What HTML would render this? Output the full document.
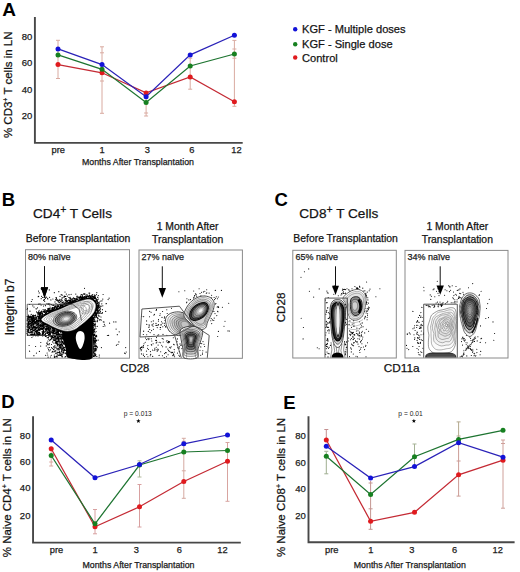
<!DOCTYPE html>
<html><head><meta charset="utf-8"><style>
html,body{margin:0;padding:0;background:#fff;}
svg{display:block;font-family:"Liberation Sans", sans-serif;}
svg text{stroke:#1a1a1a;stroke-width:0.25px;}
</style></head><body>
<svg width="520" height="572" viewBox="0 0 520 572">
<rect width="520" height="572" fill="#fff"/>
<text x="2.3" y="16.2" font-size="19" text-anchor="start" font-weight="bold" fill="#000"  style="stroke:none">A</text>
<path d="M34.9 17 V142.9 H242.7" fill="none" stroke="#484848" stroke-width="1.9"/>
<path d="M58 40.3 V78.5" stroke="#d9aaa0" stroke-width="1"/>
<path d="M56 40.3 H60" stroke="#d9aaa0" stroke-width="1"/>
<path d="M56 78.5 H60" stroke="#d9aaa0" stroke-width="1"/>
<path d="M102 46.8 V113.3" stroke="#d9aaa0" stroke-width="1"/>
<path d="M100 46.8 H104" stroke="#d9aaa0" stroke-width="1"/>
<path d="M100 52.8 H104" stroke="#d9aaa0" stroke-width="1"/>
<path d="M100 81 H104" stroke="#d9aaa0" stroke-width="1"/>
<path d="M100 113.3 H104" stroke="#d9aaa0" stroke-width="1"/>
<path d="M146.1 92 V116" stroke="#d9aaa0" stroke-width="1"/>
<path d="M144.1 113 H148.1" stroke="#d9aaa0" stroke-width="1"/>
<path d="M144.1 116 H148.1" stroke="#d9aaa0" stroke-width="1"/>
<path d="M190.2 58.2 V89.2" stroke="#d9aaa0" stroke-width="1"/>
<path d="M188.2 58.2 H192.2" stroke="#d9aaa0" stroke-width="1"/>
<path d="M188.2 89.2 H192.2" stroke="#d9aaa0" stroke-width="1"/>
<path d="M234.4 40.4 V106.3" stroke="#d9aaa0" stroke-width="1"/>
<path d="M232.4 40.4 H236.4" stroke="#d9aaa0" stroke-width="1"/>
<path d="M232.4 49 H236.4" stroke="#d9aaa0" stroke-width="1"/>
<path d="M232.4 58.2 H236.4" stroke="#d9aaa0" stroke-width="1"/>
<path d="M232.4 106.3 H236.4" stroke="#d9aaa0" stroke-width="1"/>
<polyline points="58,64.6 102,72.8 146.1,92.9 190.2,77 234.4,101.8" fill="none" stroke="#c42a34" stroke-width="1.25"/>
<circle cx="58" cy="64.6" r="2.5" fill="#e01a1e"/>
<circle cx="102" cy="72.8" r="2.5" fill="#e01a1e"/>
<circle cx="146.1" cy="92.9" r="2.5" fill="#e01a1e"/>
<circle cx="190.2" cy="77" r="2.5" fill="#e01a1e"/>
<circle cx="234.4" cy="101.8" r="2.5" fill="#e01a1e"/>
<polyline points="58,54.9 102,69.3 146.1,102.5 190.2,66 234.4,54" fill="none" stroke="#1d7430" stroke-width="1.25"/>
<circle cx="58" cy="54.9" r="2.5" fill="#168020"/>
<circle cx="102" cy="69.3" r="2.5" fill="#168020"/>
<circle cx="146.1" cy="102.5" r="2.5" fill="#168020"/>
<circle cx="190.2" cy="66" r="2.5" fill="#168020"/>
<circle cx="234.4" cy="54" r="2.5" fill="#168020"/>
<polyline points="58,48.9 102,64.6 146.1,96.8 190.2,54.9 234.4,35.3" fill="none" stroke="#2a22b8" stroke-width="1.25"/>
<circle cx="58" cy="48.9" r="2.5" fill="#1212d8"/>
<circle cx="102" cy="64.6" r="2.5" fill="#1212d8"/>
<circle cx="146.1" cy="96.8" r="2.5" fill="#1212d8"/>
<circle cx="190.2" cy="54.9" r="2.5" fill="#1212d8"/>
<circle cx="234.4" cy="35.3" r="2.5" fill="#1212d8"/>
<text x="32.3" y="39.699999999999996" font-size="9.5" text-anchor="end" font-weight="normal" fill="#222" >80</text>
<text x="32.3" y="66.2" font-size="9.5" text-anchor="end" font-weight="normal" fill="#222" >60</text>
<text x="32.3" y="92.7" font-size="9.5" text-anchor="end" font-weight="normal" fill="#222" >40</text>
<text x="32.3" y="119.2" font-size="9.5" text-anchor="end" font-weight="normal" fill="#222" >20</text>
<text x="58.2" y="153.3" font-size="9.3" text-anchor="middle" font-weight="normal" fill="#1a1a1a" >pre</text>
<text x="102.2" y="153.3" font-size="9.3" text-anchor="middle" font-weight="normal" fill="#1a1a1a" >1</text>
<text x="147.4" y="153.3" font-size="9.3" text-anchor="middle" font-weight="normal" fill="#1a1a1a" >3</text>
<text x="191.9" y="153.3" font-size="9.3" text-anchor="middle" font-weight="normal" fill="#1a1a1a" >6</text>
<text x="236.4" y="153.3" font-size="9.3" text-anchor="middle" font-weight="normal" fill="#1a1a1a" >12</text>
<text x="82" y="165.3" font-size="8.8" text-anchor="start" font-weight="normal" fill="#222" >Months After Transplantation</text>
<text transform="translate(11.5,84.8) rotate(-90)" font-size="11.5" text-anchor="middle" fill="#111">% CD3<tspan font-size="7" dy="-4">+</tspan><tspan dy="4"> T cells in LN</tspan></text>
<circle cx="295.2" cy="29.3" r="2.2" fill="#1212d8"/>
<text x="302" y="33.3" font-size="11.1" text-anchor="start" font-weight="normal" fill="#111" >KGF - Multiple doses</text>
<circle cx="295.2" cy="44.3" r="2.2" fill="#168020"/>
<text x="302" y="48.3" font-size="11.1" text-anchor="start" font-weight="normal" fill="#111" >KGF - Single dose</text>
<circle cx="295.2" cy="57.5" r="2.2" fill="#e01a1e"/>
<text x="302" y="61.5" font-size="11.1" text-anchor="start" font-weight="normal" fill="#111" >Control</text>
<text x="1.2" y="407.6" font-size="18.5" text-anchor="start" font-weight="bold" fill="#000"  style="stroke:none">D</text>
<path d="M33.05 416.3 V542.6 H240.8" fill="none" stroke="#484848" stroke-width="1.9"/>
<path d="M51.2 448 V466" stroke="#d9a8a0" stroke-width="1"/>
<path d="M49.2 462 H53.2" stroke="#d9a8a0" stroke-width="1"/>
<path d="M49.2 466 H53.2" stroke="#d9a8a0" stroke-width="1"/>
<path d="M95 509.5 V533.8" stroke="#d8a0a0" stroke-width="1"/>
<path d="M93 509.5 H97" stroke="#d8a0a0" stroke-width="1"/>
<path d="M93 533.8 H97" stroke="#d8a0a0" stroke-width="1"/>
<path d="M139.5 460.8 V477" stroke="#b0b89a" stroke-width="1"/>
<path d="M137.5 460.8 H141.5" stroke="#b0b89a" stroke-width="1"/>
<path d="M137.5 477 H141.5" stroke="#b0b89a" stroke-width="1"/>
<path d="M139.5 484.5 V527" stroke="#d8a0a0" stroke-width="1"/>
<path d="M137.5 484.5 H141.5" stroke="#d8a0a0" stroke-width="1"/>
<path d="M137.5 527 H141.5" stroke="#d8a0a0" stroke-width="1"/>
<path d="M183.8 438.3 V498.3" stroke="#d4a8a0" stroke-width="1"/>
<path d="M181.8 438.3 H185.8" stroke="#d4a8a0" stroke-width="1"/>
<path d="M181.8 441.3 H185.8" stroke="#d4a8a0" stroke-width="1"/>
<path d="M181.8 470.8 H185.8" stroke="#d4a8a0" stroke-width="1"/>
<path d="M181.8 498.3 H185.8" stroke="#d4a8a0" stroke-width="1"/>
<path d="M227.5 442.5 V501.3" stroke="#d8a4a0" stroke-width="1"/>
<path d="M225.5 442.5 H229.5" stroke="#d8a4a0" stroke-width="1"/>
<path d="M225.5 501.3 H229.5" stroke="#d8a4a0" stroke-width="1"/>
<polyline points="51.2,448.8 95,526.8 139.5,506.8 183.8,481.5 227.5,461.3" fill="none" stroke="#c42a34" stroke-width="1.25"/>
<circle cx="51.2" cy="448.8" r="2.5" fill="#e01a1e"/>
<circle cx="95" cy="526.8" r="2.5" fill="#e01a1e"/>
<circle cx="139.5" cy="506.8" r="2.5" fill="#e01a1e"/>
<circle cx="183.8" cy="481.5" r="2.5" fill="#e01a1e"/>
<circle cx="227.5" cy="461.3" r="2.5" fill="#e01a1e"/>
<polyline points="51.2,455.5 95,523.8 139.5,465 183.8,452 227.5,450.5" fill="none" stroke="#1d7430" stroke-width="1.25"/>
<circle cx="51.2" cy="455.5" r="2.5" fill="#168020"/>
<circle cx="95" cy="523.8" r="2.5" fill="#168020"/>
<circle cx="139.5" cy="465" r="2.5" fill="#168020"/>
<circle cx="183.8" cy="452" r="2.5" fill="#168020"/>
<circle cx="227.5" cy="450.5" r="2.5" fill="#168020"/>
<polyline points="51.2,440 95,477.8 139.5,464.5 183.8,443.8 227.5,435" fill="none" stroke="#2a22b8" stroke-width="1.25"/>
<circle cx="51.2" cy="440" r="2.5" fill="#1212d8"/>
<circle cx="95" cy="477.8" r="2.5" fill="#1212d8"/>
<circle cx="139.5" cy="464.5" r="2.5" fill="#1212d8"/>
<circle cx="183.8" cy="443.8" r="2.5" fill="#1212d8"/>
<circle cx="227.5" cy="435" r="2.5" fill="#1212d8"/>
<text x="30.449999999999996" y="439.15" font-size="9.5" text-anchor="end" font-weight="normal" fill="#222" >80</text>
<text x="30.449999999999996" y="465.15" font-size="9.5" text-anchor="end" font-weight="normal" fill="#222" >60</text>
<text x="30.449999999999996" y="491.4" font-size="9.5" text-anchor="end" font-weight="normal" fill="#222" >40</text>
<text x="30.449999999999996" y="518.9" font-size="9.5" text-anchor="end" font-weight="normal" fill="#222" >20</text>
<text x="56.5" y="552.8" font-size="9.3" text-anchor="middle" font-weight="normal" fill="#1a1a1a" >pre</text>
<text x="95.2" y="552.8" font-size="9.3" text-anchor="middle" font-weight="normal" fill="#1a1a1a" >1</text>
<text x="136.3" y="552.8" font-size="9.3" text-anchor="middle" font-weight="normal" fill="#1a1a1a" >3</text>
<text x="179.3" y="552.8" font-size="9.3" text-anchor="middle" font-weight="normal" fill="#1a1a1a" >6</text>
<text x="222.5" y="552.8" font-size="9.3" text-anchor="middle" font-weight="normal" fill="#1a1a1a" >12</text>
<text x="82.5" y="567.8" font-size="8.8" text-anchor="start" font-weight="normal" fill="#222" >Months After Transplantation</text>
<text transform="translate(10.7,487.7) rotate(-90)" font-size="11.5" text-anchor="middle" fill="#111">% Naive CD4<tspan font-size="7" dy="-4">+</tspan><tspan dy="4"> T cells in LN</tspan></text>
<text x="137.8" y="415.8" font-size="6.7" text-anchor="middle" font-weight="normal" fill="#222"  style="stroke:none">p = 0.013</text>
<polygon points="138.40,418.80 138.96,420.33 140.59,420.39 139.30,421.39 139.75,422.96 138.40,422.05 137.05,422.96 137.50,421.39 136.21,420.39 137.84,420.33" fill="#000"/>
<text x="283.3" y="408.8" font-size="18.5" text-anchor="start" font-weight="bold" fill="#000"  style="stroke:none">E</text>
<path d="M308.5 416.2 V542.3 H514.6" fill="none" stroke="#484848" stroke-width="1.9"/>
<path d="M326.3 429.5 V442" stroke="#c49090" stroke-width="1"/>
<path d="M324.3 429.5 H328.3" stroke="#c49090" stroke-width="1"/>
<path d="M326.3 452 V473.8" stroke="#9fae90" stroke-width="1"/>
<path d="M324.3 451.3 H328.3" stroke="#9fae90" stroke-width="1"/>
<path d="M324.3 473.8 H328.3" stroke="#9fae90" stroke-width="1"/>
<path d="M370.6 481 V529.3" stroke="#c49590" stroke-width="1"/>
<path d="M368.6 483 H372.6" stroke="#c49590" stroke-width="1"/>
<path d="M368.6 508.8 H372.6" stroke="#c49590" stroke-width="1"/>
<path d="M368.6 529.3 H372.6" stroke="#c49590" stroke-width="1"/>
<path d="M414.5 444 V466" stroke="#a5b295" stroke-width="1"/>
<path d="M412.5 444 H416.5" stroke="#a5b295" stroke-width="1"/>
<path d="M458.6 421.9 V440" stroke="#b4a98e" stroke-width="1"/>
<path d="M456.6 421.9 H460.6" stroke="#b4a98e" stroke-width="1"/>
<path d="M456.6 436 H460.6" stroke="#b4a98e" stroke-width="1"/>
<path d="M458.6 444 V496.1" stroke="#cc9c96" stroke-width="1"/>
<path d="M456.6 461 H460.6" stroke="#cc9c96" stroke-width="1"/>
<path d="M456.6 496.1 H460.6" stroke="#cc9c96" stroke-width="1"/>
<path d="M503 440 V508.2" stroke="#cfa09a" stroke-width="1"/>
<path d="M501 440 H505" stroke="#cfa09a" stroke-width="1"/>
<path d="M501 443.5 H505" stroke="#cfa09a" stroke-width="1"/>
<path d="M501 508.2 H505" stroke="#cfa09a" stroke-width="1"/>
<polyline points="326.3,440 370.6,521.3 414.5,512.3 458.6,474.8 503,460.2" fill="none" stroke="#c42a34" stroke-width="1.25"/>
<circle cx="326.3" cy="440" r="2.5" fill="#e01a1e"/>
<circle cx="370.6" cy="521.3" r="2.5" fill="#e01a1e"/>
<circle cx="414.5" cy="512.3" r="2.5" fill="#e01a1e"/>
<circle cx="458.6" cy="474.8" r="2.5" fill="#e01a1e"/>
<circle cx="503" cy="460.2" r="2.5" fill="#e01a1e"/>
<polyline points="326.3,456.3 370.6,494.5 414.5,456.7 458.6,439.4 503,430.3" fill="none" stroke="#1d7430" stroke-width="1.25"/>
<circle cx="326.3" cy="456.3" r="2.5" fill="#168020"/>
<circle cx="370.6" cy="494.5" r="2.5" fill="#168020"/>
<circle cx="414.5" cy="456.7" r="2.5" fill="#168020"/>
<circle cx="458.6" cy="439.4" r="2.5" fill="#168020"/>
<circle cx="503" cy="430.3" r="2.5" fill="#168020"/>
<polyline points="326.3,446.3 370.6,478 414.5,466.6 458.6,442.7 503,457.2" fill="none" stroke="#2a22b8" stroke-width="1.25"/>
<circle cx="326.3" cy="446.3" r="2.5" fill="#1212d8"/>
<circle cx="370.6" cy="478" r="2.5" fill="#1212d8"/>
<circle cx="414.5" cy="466.6" r="2.5" fill="#1212d8"/>
<circle cx="458.6" cy="442.7" r="2.5" fill="#1212d8"/>
<circle cx="503" cy="457.2" r="2.5" fill="#1212d8"/>
<text x="305.9" y="438.9" font-size="9.5" text-anchor="end" font-weight="normal" fill="#222" >80</text>
<text x="305.9" y="466.0" font-size="9.5" text-anchor="end" font-weight="normal" fill="#222" >60</text>
<text x="305.9" y="492.2" font-size="9.5" text-anchor="end" font-weight="normal" fill="#222" >40</text>
<text x="305.9" y="519.3" font-size="9.5" text-anchor="end" font-weight="normal" fill="#222" >20</text>
<text x="331.8" y="552.8" font-size="9.3" text-anchor="middle" font-weight="normal" fill="#1a1a1a" >pre</text>
<text x="370.8" y="552.8" font-size="9.3" text-anchor="middle" font-weight="normal" fill="#1a1a1a" >1</text>
<text x="411.8" y="552.8" font-size="9.3" text-anchor="middle" font-weight="normal" fill="#1a1a1a" >3</text>
<text x="454.6" y="552.8" font-size="9.3" text-anchor="middle" font-weight="normal" fill="#1a1a1a" >6</text>
<text x="497.7" y="552.8" font-size="9.3" text-anchor="middle" font-weight="normal" fill="#1a1a1a" >12</text>
<text x="353.8" y="567.8" font-size="8.8" text-anchor="start" font-weight="normal" fill="#222" >Months After Transplantation</text>
<text transform="translate(285.4,487.5) rotate(-90)" font-size="11.5" text-anchor="middle" fill="#111">% Naive CD8<tspan font-size="7" dy="-4">+</tspan><tspan dy="4"> T cells in LN</tspan></text>
<text x="410.5" y="415.8" font-size="6.7" text-anchor="middle" font-weight="normal" fill="#222"  style="stroke:none">p = 0.01</text>
<polygon points="413.90,418.70 414.46,420.23 416.09,420.29 414.80,421.29 415.25,422.86 413.90,421.95 412.55,422.86 413.00,421.29 411.71,420.29 413.34,420.23" fill="#000"/>
<text x="1.8" y="205.8" font-size="18.5" text-anchor="start" font-weight="bold" fill="#000"  style="stroke:none">B</text>
<text x="33" y="218" font-size="13.6" text-anchor="start" font-weight="normal" fill="#111" >CD4<tspan font-size="10.5" dy="-5">+</tspan><tspan dy="5"> T Cells</tspan></text>
<text x="25.8" y="241.9" font-size="10.4" text-anchor="start" font-weight="normal" fill="#111" >Before Transplantation</text>
<text x="187.6" y="230.4" font-size="10.4" text-anchor="middle" font-weight="normal" fill="#111" >1 Month After</text>
<text x="187.6" y="243" font-size="10.4" text-anchor="middle" font-weight="normal" fill="#111" >Transplantation</text>
<text x="274.6" y="205.6" font-size="18.5" text-anchor="start" font-weight="bold" fill="#000"  style="stroke:none">C</text>
<text x="299.3" y="218" font-size="13.6" text-anchor="start" font-weight="normal" fill="#111" >CD8<tspan font-size="10.5" dy="-5">+</tspan><tspan dy="5"> T Cells</tspan></text>
<text x="293.3" y="241.9" font-size="10.4" text-anchor="start" font-weight="normal" fill="#111" >Before Transplantation</text>
<text x="457.3" y="230.4" font-size="10.4" text-anchor="middle" font-weight="normal" fill="#111" >1 Month After</text>
<text x="457.3" y="243" font-size="10.4" text-anchor="middle" font-weight="normal" fill="#111" >Transplantation</text>
<text transform="translate(13.8,307) rotate(-90)" font-size="12" text-anchor="middle" fill="#111">Integrin b7</text>
<text x="134.8" y="372.2" font-size="11.3" text-anchor="middle" font-weight="normal" fill="#111" >CD28</text>
<text transform="translate(284.9,307.4) rotate(-90)" font-size="11.7" text-anchor="middle" fill="#111">CD28</text>
<text x="401.7" y="372.2" font-size="11.8" text-anchor="middle" font-weight="normal" fill="#111" >CD11a</text>
<rect x="25.5" y="249.7" width="104.0" height="108.5" fill="none" stroke="#8a8a8a" stroke-width="1"/>
<rect x="139" y="250" width="103.4" height="108.30000000000001" fill="none" stroke="#8a8a8a" stroke-width="1"/>
<rect x="292.8" y="250.3" width="103.5" height="107.69999999999999" fill="none" stroke="#8a8a8a" stroke-width="1"/>
<rect x="405" y="250.4" width="103" height="107.6" fill="none" stroke="#8a8a8a" stroke-width="1"/>
<text x="28" y="259.5" font-size="9" text-anchor="start" font-weight="normal" fill="#222" >80% naïve</text>
<text x="141.5" y="259.5" font-size="9" text-anchor="start" font-weight="normal" fill="#222" >27% naïve</text>
<text x="295.5" y="259.5" font-size="9" text-anchor="start" font-weight="normal" fill="#222" >65% naïve</text>
<text x="407.5" y="259.5" font-size="9" text-anchor="start" font-weight="normal" fill="#222" >34% naïve</text>
<path d="M44.5 266.3 V288.3" stroke="#111" stroke-width="1"/>
<path d="M40.9 287.3 L48.1 287.3 L44.5 298 Z" fill="#000"/>
<path d="M70.0 327.0C71.4 326.2 76.4 323.9 78.0 323.0C79.6 322.1 84.5 319.1 86.0 318.0C87.5 316.9 91.8 308.0 92.5 312.0C93.2 316.0 95.0 353.1 92.5 357.7C90.0 362.3 70.7 358.5 68.0 357.7C65.3 356.9 66.4 351.6 66.0 350.0C65.6 348.4 64.4 343.4 64.0 342.0C63.6 340.6 62.0 337.1 62.0 336.0C62.0 334.9 63.2 331.9 64.0 331.0C64.8 330.1 68.6 327.8 70.0 327.0Z" fill="#000"/>
<path d="M37.0 330.7h0M39.7 334.8h0M38.8 334.4h0M27.5 325.0h0M42.1 328.8h0M41.4 317.8h0M34.5 320.6h0M35.7 327.3h0M27.2 319.9h0M31.5 334.3h0M39.3 318.8h0M39.8 318.3h0M36.9 318.1h0M27.0 333.4h0M30.4 319.9h0M42.7 333.4h0M31.6 335.2h0M35.6 329.4h0M30.3 334.8h0M38.1 335.3h0M41.3 321.6h0M32.8 318.9h0M29.3 316.8h0M31.8 327.9h0M27.1 329.4h0M32.4 321.9h0M40.1 325.4h0M32.1 325.4h0M38.3 316.7h0M42.6 316.0h0M39.0 332.8h0M27.3 331.6h0M32.9 327.4h0M27.1 316.5h0M29.9 335.1h0M30.1 331.0h0M41.9 334.8h0M32.5 322.8h0M35.4 331.4h0M28.7 330.8h0M39.8 333.1h0M27.6 334.9h0M28.5 322.5h0M36.8 334.3h0M32.4 334.4h0M35.7 321.9h0M32.1 319.1h0M28.3 318.6h0M38.0 335.9h0M29.6 316.5h0M42.8 326.4h0M33.5 320.4h0M36.5 332.4h0M34.3 324.1h0M27.9 334.3h0M27.5 325.6h0M40.4 318.2h0M38.7 335.0h0M37.1 331.7h0M28.7 324.4h0M29.4 332.8h0M31.7 324.8h0M43.0 333.0h0M42.6 324.8h0M34.8 330.5h0M34.7 321.5h0M33.5 318.5h0M33.0 335.8h0M42.4 328.4h0M35.0 322.4h0M28.4 321.1h0M39.5 333.3h0M32.8 331.6h0M39.4 329.7h0M37.6 331.1h0M32.8 329.9h0M31.5 325.5h0M39.3 329.7h0M31.7 334.9h0M37.4 327.4h0M27.2 326.7h0M31.0 329.3h0M34.4 332.2h0M37.4 331.9h0M32.6 328.7h0M38.8 332.5h0M32.6 332.8h0M40.9 329.6h0M42.6 335.1h0M35.3 326.4h0M29.7 332.7h0M42.0 325.3h0M38.1 330.3h0M38.7 319.0h0M39.5 327.4h0M37.6 324.1h0M37.0 331.4h0M37.2 330.3h0M27.4 318.8h0M34.1 328.8h0M30.5 329.6h0M37.1 316.4h0M34.5 320.1h0M27.9 318.2h0M32.1 319.2h0M30.1 316.2h0M34.4 323.3h0M36.8 327.6h0M30.8 334.0h0M27.0 323.8h0M31.5 323.9h0M28.8 332.5h0M33.0 316.2h0M36.8 317.4h0M35.7 322.5h0M36.3 335.1h0M40.1 324.1h0M40.0 328.7h0M32.9 318.4h0M36.5 327.1h0M42.3 335.3h0M36.7 322.7h0M41.3 315.5h0M28.7 327.1h0M36.8 318.4h0M37.1 333.8h0M33.0 324.3h0M30.6 321.5h0M42.6 323.3h0M42.4 334.2h0M36.5 320.8h0M42.7 325.7h0M33.6 322.0h0M42.7 325.6h0M31.6 325.3h0M29.0 328.2h0M34.1 321.5h0M39.5 332.4h0M27.2 326.4h0M31.4 334.7h0M39.5 320.5h0M31.3 318.7h0M42.8 321.5h0M36.7 325.2h0M37.3 327.9h0M38.9 317.9h0M39.2 321.7h0M35.5 322.4h0M31.7 326.4h0M34.4 322.9h0M38.9 327.6h0M27.6 320.7h0M34.3 334.3h0M41.2 326.7h0M27.2 331.5h0M33.8 327.3h0M38.3 328.5h0M34.7 334.2h0M33.2 323.5h0M40.6 319.5h0M31.7 332.5h0M28.1 332.6h0M38.1 324.4h0M31.6 331.5h0M41.6 318.4h0M34.7 326.8h0M35.0 322.3h0M29.5 327.5h0M40.0 316.9h0M30.7 332.3h0M39.7 329.1h0M27.4 330.3h0M42.7 336.0h0M38.2 316.5h0M40.5 320.0h0M37.3 335.0h0M38.4 318.3h0M31.7 334.3h0M29.4 328.0h0M33.6 318.8h0M37.0 316.4h0M28.7 323.3h0M28.2 316.7h0M36.2 330.7h0M41.1 318.3h0M33.9 321.9h0M36.6 325.5h0M42.0 323.2h0M27.9 329.8h0M29.4 328.4h0M35.1 334.2h0M35.9 328.2h0M31.2 326.8h0M31.1 330.9h0M35.3 318.2h0M30.8 323.1h0M38.8 319.2h0M38.4 328.9h0M28.4 329.2h0M28.5 318.1h0M36.5 320.4h0M41.0 325.3h0M32.2 331.8h0M27.5 330.4h0M27.9 318.6h0M42.2 329.5h0M30.6 317.9h0M42.6 329.1h0M40.1 318.4h0M37.0 322.8h0M30.8 322.3h0M36.8 322.6h0M33.2 318.3h0M40.3 328.8h0M39.9 324.4h0M40.6 326.1h0M36.5 327.3h0M38.8 323.6h0M28.6 316.2h0M30.2 316.3h0M41.2 325.4h0M39.2 315.5h0M34.5 333.7h0M36.9 324.3h0M34.4 317.5h0M29.5 318.8h0M33.0 323.4h0M41.1 318.6h0M31.1 321.2h0M29.6 321.4h0M30.8 325.4h0M27.5 334.5h0M32.9 334.7h0M38.0 329.3h0M34.5 334.9h0M28.9 329.2h0M31.7 329.3h0M38.7 318.8h0M30.2 316.0h0M30.7 317.1h0M33.4 335.5h0M32.8 321.9h0M34.5 321.3h0M38.7 330.2h0M29.6 320.4h0M37.8 334.8h0M37.3 324.3h0M42.6 315.6h0M28.0 331.5h0M33.6 316.4h0M35.8 335.8h0M35.3 322.7h0M28.5 317.0h0M41.4 325.6h0M42.0 316.6h0M30.9 316.5h0M33.4 316.7h0M31.1 323.9h0M31.9 316.6h0M27.6 335.4h0M29.9 325.9h0M33.4 326.4h0M28.3 321.9h0M28.7 326.6h0M41.7 327.8h0M40.7 319.9h0M27.3 326.6h0M34.8 327.2h0M33.0 328.3h0M38.6 334.2h0M31.9 324.7h0M40.2 320.1h0M28.9 321.9h0M28.4 331.3h0M40.1 321.9h0M29.1 317.2h0M30.9 317.2h0M33.9 327.3h0M30.9 316.8h0M38.2 316.5h0M30.2 321.4h0M33.0 317.5h0M33.7 321.9h0M39.0 326.9h0M41.3 328.9h0M39.2 327.3h0M34.1 332.2h0M37.5 335.1h0M38.6 329.9h0M31.3 332.1h0M33.1 318.2h0M28.1 319.0h0M31.2 329.4h0M31.6 316.8h0M39.2 326.9h0M27.4 316.5h0M29.1 322.8h0M40.8 335.0h0M36.8 320.2h0M33.9 322.9h0M32.3 315.8h0M36.4 332.5h0M38.6 317.5h0M35.5 319.0h0M38.4 324.6h0M42.0 331.8h0M28.9 322.0h0M41.6 325.0h0M33.9 324.5h0M39.3 334.7h0M35.5 335.4h0M36.5 317.6h0M40.0 324.1h0M27.8 335.5h0M27.5 327.3h0M34.7 333.6h0M33.3 319.9h0M31.4 319.6h0M36.0 322.8h0M39.0 320.5h0M32.6 320.6h0M42.7 332.7h0M40.6 328.2h0M33.4 318.4h0M40.3 325.5h0M27.6 319.0h0M28.6 330.2h0M41.4 319.6h0M39.8 322.1h0M37.9 333.2h0M37.0 331.9h0M33.0 315.7h0M35.2 327.5h0M30.0 323.5h0M32.1 316.1h0M32.0 323.3h0M34.6 329.9h0M33.4 335.6h0M40.0 334.4h0M38.1 329.2h0M35.6 331.9h0M32.8 327.7h0M37.9 326.2h0M31.5 317.1h0M28.4 322.8h0M36.3 331.1h0M38.4 321.8h0M41.9 321.1h0M38.5 317.0h0M39.1 329.2h0M42.3 333.9h0M38.0 332.7h0M38.8 328.0h0M30.3 326.1h0M41.3 320.4h0M42.6 326.7h0M33.3 315.6h0M33.2 319.2h0M37.4 333.9h0M41.6 328.1h0M33.2 317.7h0M38.0 326.8h0M38.4 323.2h0M41.2 319.9h0M31.9 321.0h0M37.0 333.9h0M29.7 328.5h0M39.3 320.1h0M28.0 327.1h0M40.3 333.5h0M38.6 324.0h0M33.8 326.3h0M41.5 321.7h0M31.5 327.9h0M42.5 319.3h0M27.5 317.9h0M36.0 327.9h0M29.9 319.4h0M36.5 328.8h0M38.0 330.4h0M28.0 325.4h0M40.4 335.1h0M32.1 332.9h0M37.3 334.5h0M30.7 329.8h0M40.5 325.3h0M28.6 319.5h0M29.5 317.4h0M29.4 328.1h0M28.7 331.0h0M38.8 332.2h0M39.9 330.1h0M41.8 335.1h0M37.0 335.3h0M28.7 317.6h0M28.0 319.7h0M33.0 324.9h0M37.9 330.7h0M28.3 323.8h0M35.7 323.2h0M28.9 327.7h0M33.0 329.5h0M34.9 335.2h0M42.1 317.0h0M39.2 330.3h0M31.7 317.9h0M34.7 322.8h0M38.8 334.3h0M33.1 321.5h0M35.0 329.8h0M39.6 327.3h0M31.7 322.4h0M40.6 326.1h0M27.8 324.1h0M30.8 329.2h0M28.2 321.1h0M28.5 325.3h0M42.8 326.6h0M33.2 334.6h0M28.5 322.8h0M35.3 321.5h0M35.7 317.3h0M40.3 322.4h0M28.4 323.3h0M32.7 321.8h0M38.7 335.3h0M27.6 324.0h0M39.9 324.1h0M32.7 321.9h0M43.2 317.9h0M33.8 321.0h0M42.1 312.1h0M42.3 329.0h0M39.9 321.9h0M30.1 323.9h0M29.4 322.8h0M33.2 319.8h0M38.8 326.8h0M41.1 324.2h0M35.4 322.9h0M31.9 320.4h0M36.3 333.2h0M36.6 321.5h0M38.0 326.9h0M33.8 330.3h0M39.9 326.9h0M37.9 323.3h0M30.8 318.2h0M29.6 326.2h0M35.5 328.5h0M34.3 328.3h0M34.6 319.3h0M27.8 324.9h0M42.7 324.0h0M41.7 323.2h0M34.2 322.9h0M32.7 327.2h0M29.1 326.5h0M33.6 324.9h0M37.6 321.2h0M28.2 321.1h0M40.3 320.1h0M39.2 325.5h0M37.0 327.3h0M37.8 322.8h0M32.9 324.3h0M40.4 321.2h0M33.0 330.6h0M34.7 318.1h0M39.7 315.8h0M27.5 326.5h0M35.1 325.9h0M40.4 318.2h0M38.5 320.1h0M36.5 323.2h0M34.4 315.6h0M37.1 322.1h0M38.7 316.8h0M36.4 321.0h0M32.0 320.7h0M33.3 315.2h0M31.2 319.7h0M38.2 321.2h0M44.8 325.0h0M37.2 323.0h0M43.7 317.0h0M44.1 325.0h0M37.0 319.9h0M35.2 318.1h0M34.9 322.3h0M35.4 316.0h0M41.4 318.8h0M37.7 324.9h0M33.6 334.1h0M35.8 324.1h0M33.3 323.6h0M32.5 319.5h0M40.2 326.5h0M32.1 317.0h0M38.4 325.1h0M42.2 318.3h0M31.2 317.6h0M37.8 312.7h0M34.1 324.3h0M34.6 326.7h0M39.2 319.5h0M28.1 316.8h0M38.4 321.3h0M35.8 317.5h0M42.9 326.3h0M40.2 316.5h0M27.6 326.7h0M34.1 318.2h0M29.8 324.4h0M37.1 323.0h0M33.5 317.0h0M36.7 320.7h0M33.6 325.0h0M41.6 318.4h0M40.8 325.2h0M35.2 323.2h0M29.7 320.4h0M41.5 325.8h0M31.8 322.5h0M35.4 319.5h0M32.2 321.5h0M43.7 321.5h0M29.8 323.5h0M30.7 323.5h0M27.7 326.8h0M40.4 319.8h0M38.2 316.3h0M36.5 323.3h0M42.3 319.9h0M27.6 319.4h0M32.5 330.1h0M34.7 327.6h0M35.5 315.2h0M38.1 324.5h0M31.2 314.4h0M37.8 324.3h0M41.4 324.9h0M40.6 328.6h0M42.3 326.0h0M34.9 326.7h0M43.6 327.9h0M30.2 327.7h0M29.8 317.6h0M33.7 326.4h0M37.7 320.1h0M28.7 324.5h0M38.6 321.6h0M28.4 315.0h0M35.0 321.8h0M40.7 320.5h0M41.2 316.1h0M32.1 317.9h0M34.1 316.1h0M32.7 315.3h0M36.2 319.2h0M34.7 322.0h0M38.1 313.7h0M36.1 320.7h0M27.2 320.7h0M38.4 324.3h0M36.0 331.4h0M31.0 318.0h0M31.9 319.2h0M34.9 322.7h0M29.9 316.5h0M56.3 335.2h0M52.7 333.7h0M43.5 325.2h0M53.0 328.8h0M61.1 335.3h0M57.0 336.7h0M56.7 334.3h0M62.4 332.3h0M43.6 326.8h0M44.4 327.4h0M44.1 324.4h0M42.1 328.6h0M49.2 334.6h0M64.9 337.9h0M51.7 329.0h0M52.9 335.4h0M58.6 337.2h0M58.4 335.3h0M62.9 338.3h0M57.8 333.2h0M63.2 334.3h0M58.4 335.4h0M46.6 330.7h0M44.3 332.1h0M45.6 328.5h0M43.4 332.0h0M64.0 332.2h0M52.2 328.8h0M49.1 336.3h0M43.7 330.7h0M47.3 333.3h0M57.4 338.3h0M54.3 329.4h0M48.7 329.0h0M43.7 333.5h0M47.8 325.8h0M44.2 326.1h0M44.3 326.9h0M49.9 333.7h0M52.9 337.4h0M43.4 324.6h0M48.9 325.3h0M50.3 330.1h0M62.3 331.4h0M52.8 333.1h0M52.5 337.6h0M49.3 327.3h0M56.5 331.8h0M46.2 328.9h0M44.6 335.1h0M44.0 332.5h0M48.8 333.1h0M42.8 329.1h0M45.9 326.6h0M58.6 330.2h0M62.5 336.8h0M56.9 337.0h0M46.3 329.5h0M49.7 332.5h0M50.9 335.7h0M51.4 337.1h0M59.9 334.5h0M46.2 328.2h0M48.1 332.4h0M52.5 332.3h0M54.0 331.6h0M54.1 338.0h0M50.1 332.2h0M43.1 330.0h0M48.6 330.5h0M43.1 324.5h0M65.7 335.8h0M47.3 329.1h0M42.8 322.4h0M43.6 322.2h0M65.9 334.8h0M64.1 336.7h0M46.1 325.4h0M43.6 323.5h0M42.3 326.1h0M62.4 337.0h0M59.5 334.6h0M51.2 331.5h0M48.2 329.2h0M47.9 327.4h0M62.1 334.9h0M57.2 337.1h0M42.1 326.0h0M47.5 324.1h0M57.9 331.7h0M48.8 334.6h0M44.9 331.8h0M58.9 334.6h0M53.7 337.4h0M57.1 333.8h0M43.9 323.7h0M53.2 330.9h0M44.3 334.8h0M50.3 329.5h0M54.5 336.8h0M49.3 331.2h0M56.5 333.1h0M49.5 325.6h0M53.3 332.0h0M52.7 331.2h0M42.7 325.4h0M45.9 328.0h0M50.4 333.9h0M47.5 325.6h0M48.2 329.6h0M58.0 334.4h0M53.5 330.7h0M60.5 339.1h0M54.1 333.2h0M49.9 333.7h0M50.8 332.3h0M56.7 333.4h0M64.2 334.2h0M59.0 334.1h0M47.5 332.3h0M53.8 330.5h0M59.3 335.3h0M52.6 331.3h0M59.1 339.1h0M44.0 335.5h0M57.6 330.8h0M60.9 337.2h0M45.5 329.7h0M56.8 334.0h0M65.0 336.1h0M64.7 335.1h0M50.0 335.4h0M54.8 333.3h0M57.3 337.3h0M59.1 339.4h0M53.8 329.9h0M57.8 331.2h0M49.6 330.0h0M43.0 323.8h0M49.2 336.2h0M47.8 333.3h0M55.6 337.9h0M48.2 327.3h0M42.0 322.4h0M45.6 326.3h0M60.4 338.8h0M49.0 332.6h0M45.5 335.7h0M44.5 328.8h0M60.4 330.9h0M42.1 325.2h0M65.7 334.3h0M59.7 336.2h0M42.2 326.1h0M52.2 330.4h0M49.4 335.6h0M47.9 328.5h0M44.5 324.8h0M65.9 332.4h0M54.6 333.5h0M58.1 330.4h0M42.7 322.4h0M47.6 326.3h0M43.6 321.7h0M63.4 331.6h0M49.0 334.3h0M64.5 333.3h0M43.2 328.5h0M62.1 331.9h0M47.0 324.7h0M43.5 330.4h0M46.4 328.9h0M63.5 338.0h0M53.8 335.7h0M64.2 336.7h0M64.4 334.5h0M43.8 325.6h0M57.7 338.2h0M50.3 326.9h0M46.1 324.5h0M48.4 328.2h0M64.7 331.9h0M60.0 338.7h0M44.3 323.9h0M59.7 335.1h0M56.8 329.5h0M46.7 324.4h0M50.4 328.2h0M48.7 335.6h0M63.2 338.6h0M43.1 329.2h0M47.3 332.8h0M49.3 332.1h0M54.1 329.8h0M61.0 338.6h0M56.9 331.8h0M61.0 334.2h0M46.6 328.3h0M42.5 333.4h0M50.6 328.7h0M58.2 338.2h0M55.9 332.9h0M56.6 334.2h0M48.9 332.4h0M48.4 326.6h0M65.5 333.2h0M53.3 331.2h0M43.8 322.2h0M56.0 332.0h0M65.5 332.4h0M53.9 328.4h0M60.2 331.5h0M54.6 335.0h0M55.1 331.8h0M45.1 334.6h0M61.6 335.0h0M45.2 335.2h0M47.2 333.4h0M42.1 331.8h0M61.0 331.8h0M47.5 331.0h0M56.6 338.2h0M56.5 330.0h0M57.6 332.6h0M42.9 323.4h0M50.6 333.7h0M57.7 329.8h0M50.4 335.0h0M54.9 337.2h0M57.9 332.8h0M54.0 335.1h0M63.2 333.6h0M48.4 334.6h0M63.7 331.9h0M47.3 332.2h0M65.0 331.8h0M45.6 324.0h0M42.0 327.5h0M48.2 329.9h0M43.8 331.2h0M56.0 330.5h0M60.9 331.5h0M57.3 331.3h0M63.5 332.2h0M62.5 334.0h0M60.4 334.2h0M46.2 323.9h0M53.4 333.7h0M48.6 331.9h0M46.9 324.4h0M50.7 336.7h0M65.4 333.9h0M46.4 328.6h0M46.0 325.0h0M58.3 330.5h0M49.0 325.1h0M62.5 338.9h0M63.2 334.1h0M48.4 328.3h0M50.9 331.7h0M42.1 329.4h0M58.5 333.7h0M55.2 332.0h0M49.4 333.3h0M43.7 326.8h0M61.8 331.2h0M45.4 334.9h0M46.6 323.3h0M62.0 333.0h0M63.1 334.5h0M52.1 327.6h0M52.5 336.0h0M47.1 331.6h0M48.0 327.5h0M53.0 328.4h0M64.2 332.2h0M48.7 326.9h0M57.8 337.3h0M63.6 331.9h0M51.2 331.2h0M55.0 329.9h0M46.7 328.9h0M62.1 332.8h0M57.1 331.1h0M49.2 329.4h0M51.8 332.5h0M54.9 331.2h0M45.5 333.6h0M48.2 329.8h0M42.9 322.9h0M46.7 335.5h0M63.5 333.3h0M45.2 328.8h0M64.2 333.0h0M43.5 334.0h0M65.7 335.6h0M57.2 338.5h0M59.0 338.7h0M60.3 335.6h0M58.1 336.4h0M53.2 331.0h0M62.6 332.6h0M46.4 336.1h0M49.8 330.9h0M58.4 332.3h0M50.8 333.4h0M51.0 335.6h0M51.3 336.5h0M63.2 337.0h0M47.9 326.1h0M47.1 327.9h0M44.9 322.9h0M58.6 335.0h0M58.9 335.1h0M42.9 325.6h0M49.4 328.8h0M50.2 334.5h0M52.9 332.9h0M64.8 334.7h0M44.3 324.1h0M60.0 335.0h0M59.9 336.3h0M49.3 327.7h0M45.0 324.5h0M62.6 331.8h0M60.5 332.2h0M60.0 330.6h0M47.3 326.5h0M42.8 332.8h0M65.8 332.5h0M53.8 329.1h0M57.1 332.3h0M53.7 338.1h0M63.3 335.6h0M59.4 334.4h0M46.7 329.8h0M61.6 336.7h0M46.3 332.9h0M57.8 335.6h0M60.8 331.3h0M48.4 328.1h0M43.7 321.5h0M65.0 333.7h0M55.5 333.8h0M62.9 332.7h0M52.2 327.8h0M45.6 336.4h0M59.9 331.2h0M43.7 328.7h0M52.3 330.1h0M43.3 330.9h0M42.2 326.0h0M59.1 336.9h0M46.3 328.1h0M44.8 324.9h0M58.0 338.8h0M53.5 332.3h0M65.4 333.8h0M54.2 336.2h0M47.1 327.8h0M53.0 334.0h0M53.6 329.8h0M42.4 322.5h0M53.0 335.3h0M61.5 336.9h0M61.3 339.3h0M45.3 335.9h0M46.6 326.3h0M47.0 324.7h0M56.3 334.1h0M42.9 331.6h0M54.7 331.1h0M54.4 336.0h0M61.7 337.2h0M59.9 336.7h0M59.6 333.9h0M50.0 334.5h0M59.8 336.8h0M54.5 331.7h0M61.2 338.4h0M42.8 320.7h0M47.8 335.5h0M56.0 338.4h0M46.7 327.6h0M56.8 335.5h0M51.3 331.4h0M65.2 333.0h0M62.3 336.7h0M52.3 330.1h0M62.0 334.5h0M48.4 325.0h0M58.5 332.9h0M64.5 331.8h0M53.6 337.7h0M45.3 331.8h0M42.7 334.6h0M51.9 336.4h0M49.4 325.3h0M48.1 326.8h0M52.9 330.6h0M48.9 330.8h0M44.3 327.4h0M58.9 331.3h0M48.7 327.9h0M43.5 328.1h0M51.2 335.5h0M57.4 334.8h0M43.3 326.9h0M48.9 331.7h0M64.0 333.2h0M43.7 326.8h0M46.0 326.0h0M47.4 324.2h0M42.7 329.2h0M60.9 338.1h0M45.4 334.3h0M43.7 335.5h0M48.8 334.8h0M53.8 328.6h0M45.7 330.9h0M53.9 343.1h0M57.1 352.0h0M61.6 351.9h0M60.4 355.5h0M61.2 349.6h0M63.1 347.1h0M57.2 343.9h0M66.1 353.7h0M59.0 348.9h0M53.8 351.8h0M56.5 343.5h0M58.6 345.0h0M66.5 339.3h0M55.6 336.4h0M58.7 352.5h0M64.9 357.0h0M57.5 344.7h0M65.5 344.2h0M61.8 356.3h0M56.1 339.0h0M62.5 341.4h0M59.1 352.7h0M61.8 353.9h0M57.4 345.6h0M61.7 347.5h0M52.1 338.9h0M53.4 340.6h0M58.1 350.0h0M62.5 342.4h0M56.3 339.6h0M64.9 347.5h0M52.5 351.3h0M68.5 348.1h0M55.0 347.6h0M61.3 341.2h0M62.7 354.2h0M62.0 342.0h0M55.4 342.9h0M57.1 355.7h0M58.6 355.2h0M58.1 346.8h0M62.2 344.2h0M60.8 345.9h0M59.5 346.1h0M65.3 356.8h0M59.8 354.5h0M60.1 346.0h0M62.0 345.1h0M64.2 343.1h0M60.0 346.9h0M57.8 340.9h0M61.8 350.8h0M59.1 339.7h0M57.6 343.5h0M58.9 344.4h0M68.1 338.6h0M56.0 341.9h0M54.7 351.0h0M54.5 340.5h0M56.2 347.1h0M59.6 341.3h0M58.4 348.7h0M62.2 356.5h0M57.5 354.1h0M68.7 349.1h0M53.5 346.9h0M64.3 350.0h0M61.3 340.4h0M63.3 348.3h0M63.3 347.1h0M62.8 342.5h0M66.9 351.2h0M61.8 339.1h0M61.3 341.7h0M61.2 337.9h0M51.2 355.3h0M67.2 344.5h0M51.5 344.5h0M63.3 340.0h0M63.7 351.1h0M62.4 349.1h0M55.7 342.0h0M55.4 336.3h0M63.3 343.4h0M63.4 343.5h0M56.1 353.2h0M64.7 343.9h0M57.8 352.6h0M60.8 344.5h0M65.8 353.6h0M56.2 342.5h0M61.2 338.7h0M62.4 349.3h0M60.4 336.4h0M59.4 345.0h0M61.6 344.9h0M58.8 355.4h0M65.6 341.5h0M55.1 351.7h0M57.4 338.1h0M61.1 337.6h0M57.0 343.9h0M60.3 342.2h0M64.7 349.8h0M67.8 348.5h0M61.6 351.3h0M59.7 351.9h0M58.0 342.3h0M49.7 340.6h0M61.7 348.4h0M60.6 347.7h0M61.1 344.6h0M62.6 338.2h0M62.2 357.0h0M64.3 350.7h0M57.1 336.8h0M60.2 348.4h0M57.7 341.3h0M54.8 338.9h0M66.3 347.0h0M64.0 344.2h0M56.8 342.6h0M62.1 342.1h0M63.8 349.2h0M55.1 347.7h0M56.1 343.7h0M60.0 343.3h0M66.7 339.6h0M59.8 351.6h0M66.9 347.6h0M65.3 343.7h0M64.5 344.1h0M65.2 336.5h0M64.0 342.0h0M58.9 344.9h0M61.6 344.2h0M55.3 341.0h0M61.7 350.0h0M59.8 345.8h0M56.8 348.5h0M67.7 341.1h0M59.8 353.2h0M62.3 349.2h0M57.4 341.6h0M63.6 341.9h0M59.6 342.8h0M63.6 343.8h0M61.2 346.5h0M67.5 347.2h0M57.6 339.2h0M63.0 350.6h0M57.3 345.0h0M65.3 339.2h0M62.8 352.2h0M52.3 336.8h0M68.3 343.5h0M63.9 347.1h0M63.8 353.2h0M66.5 350.6h0M55.7 339.3h0M67.6 340.9h0M59.4 336.6h0M55.4 342.9h0M62.6 345.7h0M58.4 339.2h0M52.6 348.5h0M55.1 351.3h0M60.5 353.2h0M54.8 346.6h0M62.2 347.0h0M60.2 355.5h0M60.8 339.2h0M56.6 341.0h0M56.9 343.9h0M54.4 357.5h0M61.5 343.0h0M65.9 353.2h0M54.6 348.0h0M55.7 340.1h0M61.9 343.1h0M63.1 342.3h0M46.6 343.1h0M55.8 353.4h0M57.2 356.9h0M49.0 344.8h0M57.1 349.1h0M59.6 347.4h0M47.1 353.0h0M61.7 338.5h0M62.1 337.1h0M59.4 349.8h0M51.2 338.8h0M50.4 349.8h0M56.2 353.7h0M48.6 349.7h0M51.4 337.9h0M48.9 339.3h0M48.3 337.8h0M65.5 344.4h0M60.9 345.7h0M55.7 342.2h0M64.8 341.3h0M65.2 353.0h0M63.1 339.0h0M65.7 350.4h0M57.2 348.6h0M54.4 356.5h0M65.6 356.5h0M48.0 347.9h0M59.7 340.8h0M63.7 352.4h0M47.5 343.1h0M59.3 355.1h0M66.0 342.7h0M62.6 349.0h0M52.6 341.9h0M47.2 337.7h0M54.0 339.5h0M49.3 343.6h0M47.9 341.1h0M50.4 357.0h0M53.9 349.7h0M56.4 356.7h0M62.3 356.0h0M63.3 352.1h0M63.4 343.8h0M57.8 343.8h0M64.4 342.5h0M66.0 341.8h0M52.1 352.2h0M57.0 341.4h0M47.7 355.0h0M49.4 347.5h0M62.6 347.0h0M55.0 340.4h0M64.7 349.3h0M59.0 345.1h0M59.9 344.8h0M48.8 344.3h0M61.0 354.7h0M55.8 350.5h0M64.6 350.3h0M65.5 342.2h0M63.3 352.4h0M57.0 349.1h0M48.5 337.3h0M45.7 355.3h0M53.4 349.3h0M54.3 355.0h0M60.5 344.7h0M58.4 341.4h0M64.8 340.3h0M64.1 348.0h0M48.1 357.2h0M49.2 350.9h0M50.5 339.7h0M61.6 355.3h0M63.7 350.8h0M58.5 340.2h0M66.0 343.7h0M58.4 337.5h0M51.6 347.7h0M54.9 345.5h0M53.0 337.4h0M58.6 344.3h0M47.4 344.6h0M59.1 352.2h0M53.7 339.4h0M58.1 349.3h0M55.2 356.9h0M64.6 303.9h0M47.6 311.6h0M52.3 310.1h0M46.3 313.3h0M98.4 310.3h0M79.0 297.6h0M59.4 308.6h0M68.4 300.5h0M39.8 315.7h0M91.9 297.4h0M39.5 313.3h0M65.4 304.7h0M61.2 310.0h0M94.6 297.3h0M78.2 301.4h0M54.6 307.9h0M48.4 311.8h0M66.7 304.1h0M82.8 297.5h0M62.9 305.9h0M72.5 303.5h0M99.4 302.0h0M57.3 308.2h0M80.7 296.8h0M77.3 299.4h0M58.0 309.5h0M96.6 300.5h0M52.8 312.5h0M37.4 312.9h0M85.1 298.3h0M55.9 306.6h0M87.1 296.8h0M60.2 309.6h0M43.0 319.4h0M47.6 311.0h0M79.1 300.0h0M74.8 301.9h0M89.5 298.8h0M51.4 310.4h0M75.7 300.5h0M85.0 296.9h0M98.5 305.6h0M98.1 308.8h0M50.7 310.4h0M90.4 298.8h0M90.8 297.7h0M39.8 316.0h0M70.4 302.8h0M96.8 304.5h0M38.2 314.2h0M77.8 299.5h0M95.4 310.4h0M58.4 305.1h0M95.2 310.4h0M41.6 312.2h0M46.6 310.7h0M45.1 312.0h0M90.1 297.8h0M96.6 313.9h0M96.5 316.2h0M98.2 311.5h0M76.2 300.3h0M45.0 311.1h0M72.1 298.9h0M81.6 299.7h0M89.1 295.4h0M97.6 307.0h0M97.7 313.2h0M90.4 310.1h0M51.4 313.7h0M99.2 306.6h0M62.4 303.0h0M59.1 307.3h0M46.6 312.9h0M50.7 311.2h0M99.1 305.0h0M96.2 315.2h0M97.1 308.0h0M44.9 309.5h0M47.0 311.6h0M57.5 307.1h0M97.9 305.6h0M94.7 296.0h0M47.8 310.5h0M98.8 304.1h0M97.4 301.5h0M72.4 303.4h0M40.9 315.4h0M79.5 298.8h0M69.3 304.0h0M89.9 295.6h0M54.3 307.6h0M94.4 301.2h0M91.5 298.1h0M84.5 297.8h0M85.5 297.1h0M97.6 297.3h0M89.7 293.1h0M69.6 303.3h0M46.0 312.0h0M67.4 305.4h0M77.3 299.6h0M51.2 308.6h0M89.9 295.4h0M95.9 300.7h0M44.3 310.6h0M80.0 297.7h0M64.8 303.3h0M76.2 299.5h0M59.2 307.5h0M68.5 303.3h0M101.8 303.8h0M95.6 307.9h0M83.6 297.0h0M39.9 314.5h0M62.1 302.3h0M83.9 300.3h0M70.2 304.2h0M71.7 301.8h0M93.1 311.5h0M67.6 301.6h0M90.3 296.3h0M83.7 297.4h0M74.8 299.8h0M93.6 313.0h0M65.7 304.3h0M45.9 311.0h0M55.1 312.7h0M72.9 301.3h0M39.4 314.7h0M82.3 297.2h0M97.5 303.4h0M95.2 298.3h0M97.5 310.4h0M54.9 310.8h0M97.2 309.1h0M77.1 296.1h0M69.0 299.8h0M63.0 310.6h0M46.8 310.8h0M97.2 305.1h0M54.7 307.5h0M42.4 314.4h0M97.8 303.3h0M96.2 300.9h0M97.1 301.3h0M45.0 315.4h0M49.0 313.2h0M91.7 299.4h0M68.8 302.3h0M100.4 308.9h0M89.0 293.1h0M71.9 304.6h0M93.3 299.4h0M47.9 311.0h0M69.6 300.8h0M50.1 312.2h0M90.7 297.6h0M89.8 298.5h0M94.7 295.8h0M56.4 308.4h0M45.4 309.8h0M39.4 316.3h0M97.9 306.0h0M97.9 312.5h0M43.7 314.5h0M44.1 314.7h0M56.3 306.1h0M52.9 312.0h0M58.4 308.5h0M42.2 314.8h0M49.8 309.3h0M79.2 297.2h0M72.1 302.6h0M77.7 298.9h0M94.3 312.1h0M52.8 307.8h0M71.3 302.3h0M62.0 302.7h0M47.8 308.6h0M70.7 301.7h0M89.5 296.6h0M63.8 301.9h0M56.7 307.8h0M41.6 311.1h0M69.7 298.0h0M98.8 311.8h0M87.0 296.7h0M95.4 297.9h0M92.0 295.1h0M57.1 309.5h0M74.3 298.7h0M84.6 296.5h0M96.1 309.2h0M53.0 307.9h0M74.9 301.8h0M44.5 312.6h0M49.1 313.9h0M73.4 301.1h0M95.1 314.2h0M69.9 301.3h0M49.7 310.8h0M76.9 303.0h0M66.5 301.8h0M75.7 300.3h0M49.3 314.1h0M60.8 307.2h0M94.9 306.0h0M69.5 300.3h0M46.5 315.6h0M95.3 297.8h0M58.0 310.8h0M96.6 306.2h0M52.5 308.4h0M84.9 299.0h0M61.0 307.1h0M87.7 298.7h0M58.1 308.9h0M80.3 298.0h0M61.4 304.8h0M91.8 295.8h0M38.8 312.2h0M65.7 301.8h0M75.4 302.7h0M62.4 306.4h0M63.4 306.5h0M38.6 313.2h0M66.7 300.7h0M72.1 304.1h0M98.6 313.8h0M93.0 298.7h0M63.4 306.4h0M96.3 300.6h0M48.1 308.3h0M55.1 310.1h0M81.7 297.7h0M69.2 302.2h0M97.2 301.0h0M97.6 309.2h0M89.4 295.2h0M53.5 309.5h0M80.8 295.0h0M94.2 297.6h0M99.8 309.4h0M93.1 300.6h0M43.5 312.0h0M52.8 310.1h0M97.7 305.8h0M90.3 298.8h0M89.9 299.1h0M53.3 307.8h0M84.3 299.2h0M81.1 298.8h0M98.4 304.8h0M94.9 313.0h0M55.4 306.9h0M74.0 298.3h0M45.0 314.4h0M59.7 307.4h0M60.9 306.6h0M77.9 299.5h0M99.0 307.3h0M74.8 301.5h0M61.6 305.4h0M49.9 311.2h0M98.2 312.8h0M74.4 300.3h0M97.5 311.1h0M44.1 315.2h0M45.0 317.7h0M95.4 312.6h0M68.7 302.5h0M95.4 301.8h0M97.6 309.0h0M69.0 302.4h0M86.5 296.3h0M53.3 309.0h0M39.5 313.9h0M70.9 301.7h0M39.3 317.5h0M69.7 302.3h0M83.5 298.7h0M93.7 296.5h0M59.1 307.1h0M82.8 297.3h0M46.7 310.8h0M90.3 296.2h0M79.6 301.3h0M43.9 311.1h0M94.1 303.3h0M86.8 302.0h0M96.0 299.7h0M100.8 306.0h0M59.0 306.9h0M93.5 310.8h0M96.3 313.1h0M88.6 296.4h0M92.2 296.7h0M45.3 315.3h0M99.1 306.4h0M93.1 297.6h0M74.5 302.4h0M98.7 306.4h0M91.8 296.2h0M96.1 298.7h0M87.3 295.7h0M80.3 299.3h0M49.0 311.9h0M76.2 301.8h0M82.0 299.5h0M47.6 310.7h0M39.3 312.5h0M94.2 294.8h0M96.4 309.5h0M83.6 297.5h0M93.3 297.0h0M90.1 296.5h0M54.5 306.9h0M66.3 304.9h0M88.6 298.8h0M83.8 297.5h0M82.3 296.2h0M97.1 299.8h0M58.7 306.3h0M60.4 305.3h0M66.5 306.0h0M53.9 311.2h0M97.8 309.4h0M69.7 302.6h0M96.7 309.2h0M40.7 316.9h0M68.3 303.8h0M40.4 313.7h0M50.7 312.3h0M65.4 304.1h0M95.6 307.6h0M81.4 297.9h0M37.8 312.9h0M45.5 313.4h0M67.7 301.1h0M97.4 305.5h0M96.0 302.0h0M90.1 297.6h0M96.8 305.4h0M82.9 294.6h0M77.4 301.4h0M97.7 306.9h0M66.6 305.9h0M37.8 314.9h0M61.2 304.2h0M60.3 304.2h0M94.7 313.2h0M91.3 298.5h0M39.7 314.7h0M49.4 311.3h0M94.5 298.2h0M94.8 315.2h0M52.2 307.7h0M97.1 303.6h0M73.0 300.8h0M95.0 309.5h0M40.9 314.6h0M71.1 299.0h0M66.0 304.7h0M68.5 304.5h0M55.5 305.9h0M78.6 300.7h0M39.2 316.0h0M84.3 294.3h0M75.8 302.2h0M50.2 310.6h0M78.3 297.2h0M92.8 296.0h0M42.1 315.4h0M61.3 307.7h0M73.5 301.4h0M53.4 309.0h0M96.1 312.0h0M99.2 305.7h0M89.8 301.4h0M75.1 299.1h0M94.8 302.9h0M97.8 297.4h0M54.3 309.9h0M96.2 300.5h0M50.0 310.5h0M88.2 296.3h0M39.2 314.6h0M93.3 309.5h0M42.5 313.7h0M94.0 297.0h0M60.3 306.9h0M91.2 296.0h0M40.6 315.5h0M40.7 312.3h0M80.7 299.4h0M93.4 312.5h0M76.9 297.0h0M75.6 299.0h0M49.9 308.3h0M77.6 297.2h0M73.9 300.9h0M74.9 298.9h0M48.8 310.1h0M95.1 315.7h0M98.4 302.6h0M96.2 299.3h0M52.7 310.7h0M39.3 315.5h0M92.3 312.7h0M84.7 297.6h0M78.1 298.8h0M95.7 313.8h0M96.3 310.7h0M83.0 297.9h0M97.4 302.9h0M81.3 298.8h0M39.6 314.1h0M84.7 296.6h0M49.6 311.6h0M43.8 311.0h0M44.0 311.4h0M52.1 310.3h0M80.9 296.9h0M52.0 310.7h0M43.6 311.3h0M62.5 304.7h0M47.1 310.7h0M67.2 303.8h0M46.4 312.3h0M60.5 307.8h0M65.6 300.5h0M91.8 299.6h0M52.8 305.3h0M90.3 298.6h0M40.4 313.1h0M96.9 303.1h0M40.1 312.7h0M44.7 315.2h0M82.1 297.7h0M45.7 313.4h0M47.5 310.1h0M81.1 297.8h0M53.8 310.2h0M95.6 300.8h0M48.4 312.0h0M87.3 296.1h0M48.6 309.5h0M40.3 317.1h0M42.0 313.1h0M85.2 297.6h0M97.2 312.1h0M49.7 309.0h0M95.3 313.0h0M73.1 300.4h0M57.7 304.7h0M71.0 299.9h0M52.6 309.9h0M51.3 314.0h0M49.6 310.5h0M96.5 316.0h0M72.9 303.1h0M72.4 300.5h0M76.2 299.8h0M57.3 309.7h0M58.2 306.1h0M99.2 303.3h0M93.3 296.9h0M91.8 298.1h0M91.4 300.7h0M94.2 298.7h0M96.6 314.9h0M91.4 298.4h0M60.2 305.7h0M95.0 307.0h0M48.8 311.1h0M59.0 306.7h0M62.7 305.2h0M80.3 300.5h0M98.6 307.7h0M53.3 310.1h0M56.1 307.2h0M86.7 296.9h0M90.2 296.8h0M42.5 313.4h0M74.9 299.4h0M98.3 308.6h0M97.0 307.8h0M99.4 310.5h0M56.0 308.6h0M39.6 315.7h0M94.7 301.6h0M48.9 312.0h0M57.4 308.7h0M63.7 304.8h0M93.9 296.8h0M86.6 298.8h0M96.7 314.2h0M64.9 303.1h0M52.8 309.1h0M64.6 306.7h0M70.2 298.8h0M63.4 303.9h0M72.3 302.9h0M95.7 315.6h0M79.1 297.2h0M72.4 301.9h0M97.3 300.7h0M58.6 306.7h0M56.4 308.3h0M61.3 305.7h0M47.8 314.0h0M59.6 304.6h0M81.0 297.4h0M50.6 310.2h0M92.6 314.5h0M51.3 313.1h0M93.4 315.3h0M68.3 305.0h0M97.8 308.7h0M42.4 317.3h0M72.3 301.4h0M45.8 312.5h0M52.1 309.7h0M93.1 298.0h0M82.3 295.5h0M81.8 297.6h0M84.0 298.7h0M55.4 309.3h0M83.9 293.7h0M49.9 310.2h0M71.5 303.5h0M67.5 304.8h0M65.5 304.2h0M47.4 314.7h0M96.0 313.4h0M55.7 307.1h0M55.2 306.0h0M81.7 297.4h0M77.4 297.0h0M56.5 307.8h0M75.1 301.4h0M68.6 302.7h0M94.7 315.2h0M65.2 306.9h0M49.0 308.6h0M51.7 309.9h0M54.2 309.0h0M83.3 297.0h0M76.3 298.5h0M85.5 296.6h0M95.2 296.6h0M45.1 314.7h0M71.4 303.3h0M90.9 296.3h0M92.4 294.5h0M69.9 304.1h0M72.8 299.3h0M97.9 302.3h0M82.1 298.9h0M95.0 314.4h0M46.0 313.7h0M85.9 295.2h0M64.3 304.8h0M64.5 303.5h0M72.9 300.2h0M47.9 309.4h0M68.0 302.7h0M61.2 306.3h0M76.3 298.4h0M96.9 313.7h0M88.8 297.9h0M74.6 300.8h0M53.9 305.4h0M74.2 298.4h0M85.1 297.4h0M51.9 309.6h0M70.3 303.1h0M60.6 305.0h0M84.0 300.9h0M61.9 307.7h0M82.7 298.8h0M80.6 300.3h0M96.4 300.9h0M79.3 297.8h0M65.2 302.7h0M57.1 307.9h0M76.8 296.6h0M75.0 298.8h0M42.5 318.5h0M79.2 297.5h0M93.2 312.7h0M81.0 297.8h0M96.3 315.5h0M71.1 301.7h0M62.2 305.2h0M89.9 296.7h0M62.0 305.8h0M89.9 297.2h0M81.5 297.0h0M97.2 306.0h0M73.2 298.2h0M54.5 308.4h0M61.0 308.3h0M90.3 296.6h0M54.2 311.3h0M89.3 299.2h0M67.7 300.5h0M95.8 310.1h0M59.4 308.1h0M67.1 304.8h0M82.1 298.2h0M95.3 295.5h0M88.2 298.0h0M92.5 298.7h0M95.2 297.9h0M73.1 300.1h0M89.4 298.5h0M41.2 313.6h0M38.8 311.4h0M99.4 312.8h0M67.4 304.9h0M70.9 300.7h0M54.7 307.5h0M86.6 296.7h0M59.4 307.1h0M97.5 308.1h0M75.1 299.1h0M82.6 298.9h0M93.1 313.3h0M86.8 297.3h0M55.6 306.6h0M88.4 298.6h0M48.2 309.3h0M93.1 315.2h0M53.1 307.8h0M51.3 312.3h0M79.0 300.6h0M94.6 314.9h0M59.0 308.3h0M97.0 304.5h0M73.5 297.8h0M57.5 306.8h0M90.7 297.2h0M81.5 294.5h0M47.3 310.9h0M84.5 298.1h0M86.4 297.7h0M75.8 300.6h0M63.9 303.8h0M94.4 331.4h0M91.4 329.8h0M93.6 332.3h0M94.7 342.7h0M95.3 336.2h0M92.9 322.8h0M94.4 321.3h0M94.9 326.1h0M95.3 324.5h0M95.8 340.8h0M96.4 317.2h0M93.2 323.1h0M96.7 346.4h0M92.1 336.2h0M93.2 325.8h0M94.1 330.2h0M91.9 330.9h0M92.2 328.3h0M94.0 354.7h0M93.9 324.0h0M94.4 343.3h0M94.8 329.7h0M93.1 356.5h0M94.7 344.7h0M95.4 355.8h0M95.8 354.3h0M95.6 339.8h0M97.7 318.7h0M93.1 320.2h0M94.0 355.8h0M95.6 345.3h0M92.2 334.0h0M95.9 335.8h0M91.2 346.7h0M97.5 318.8h0M96.1 331.6h0M92.3 320.9h0M93.1 331.2h0M94.6 338.4h0M95.6 340.8h0M95.8 340.4h0M94.4 324.7h0M95.3 327.0h0M97.6 320.8h0M98.2 318.7h0M93.2 352.1h0M94.0 325.1h0M94.7 349.0h0M93.2 318.5h0M94.1 328.6h0M92.5 330.0h0M92.6 324.4h0M97.7 317.8h0M93.6 347.1h0M92.7 338.3h0M92.3 326.4h0M93.1 334.9h0M94.6 337.8h0M94.4 335.1h0M94.2 353.5h0M93.7 352.6h0M90.7 334.7h0M94.5 351.2h0M94.0 356.5h0M92.6 330.8h0M93.4 329.6h0M93.0 350.1h0M94.4 321.0h0M92.4 320.5h0M94.3 321.3h0M95.9 328.5h0M94.1 337.8h0M97.1 347.6h0M93.1 344.1h0M92.9 340.8h0M92.8 327.3h0M92.6 351.9h0M95.9 343.8h0M93.4 321.4h0M93.7 334.2h0M92.9 327.8h0M94.1 341.5h0M92.4 328.6h0M91.6 349.7h0M94.6 335.5h0M93.9 340.6h0M92.0 346.7h0M96.2 349.0h0M93.1 323.8h0M93.8 325.6h0M94.5 338.3h0M96.3 341.1h0M94.5 345.2h0M93.3 327.6h0M94.3 339.7h0M95.5 338.5h0M95.7 350.9h0M95.0 332.5h0M97.3 320.7h0M90.8 336.9h0M94.5 334.9h0M94.8 334.1h0M95.4 325.9h0M94.6 348.6h0M97.4 347.0h0M90.3 339.3h0M93.6 331.9h0M93.4 330.5h0M94.1 341.1h0M93.0 335.4h0M93.8 321.2h0M92.3 345.6h0M94.2 329.8h0M95.3 321.8h0M95.7 348.5h0M96.1 346.4h0M93.1 337.0h0M93.6 338.1h0M91.6 343.0h0M93.8 353.5h0M92.6 340.7h0M95.4 346.8h0M97.4 317.5h0M94.8 348.3h0M94.8 353.8h0M93.9 346.5h0M91.5 356.5h0M96.0 317.1h0M92.9 344.0h0M94.7 341.3h0M96.7 340.2h0M92.0 319.4h0M93.9 323.0h0M96.6 335.6h0M93.9 351.6h0M93.6 317.4h0M95.0 350.3h0M91.8 335.8h0M94.1 338.2h0M93.5 348.9h0M94.9 334.1h0M93.1 317.7h0M94.9 346.5h0M92.4 326.8h0M95.0 317.8h0M96.6 348.9h0M92.8 335.3h0M95.2 337.9h0M94.9 349.4h0M92.0 330.5h0M91.6 317.8h0M94.9 348.0h0M94.2 316.4h0M94.9 353.2h0M91.0 331.2h0M94.6 317.0h0M92.3 349.8h0M92.5 317.5h0M95.0 321.2h0M96.2 345.5h0M97.0 321.6h0M95.5 349.2h0M95.3 350.8h0M96.7 336.7h0M96.2 335.3h0M95.5 323.8h0M93.0 327.2h0M95.2 321.0h0M93.4 348.7h0M94.8 317.7h0M96.0 336.7h0M95.1 341.1h0M92.7 335.9h0M92.9 335.4h0M96.8 356.4h0M94.0 342.9h0M94.4 341.3h0M94.2 325.1h0M94.8 324.4h0M93.8 352.6h0M91.9 319.4h0M93.6 318.4h0M94.8 318.0h0M92.3 336.5h0M94.0 340.1h0M97.2 326.4h0M94.6 334.4h0M93.3 338.9h0M94.1 350.9h0M93.5 319.3h0M91.5 332.5h0M94.2 320.7h0M94.1 355.7h0M92.3 340.4h0M93.4 355.9h0M95.5 355.3h0M93.4 340.3h0M95.3 341.8h0M91.1 345.8h0M94.1 340.5h0M94.6 319.3h0M95.2 354.2h0M93.9 355.1h0M94.6 340.6h0M93.4 342.0h0M97.2 321.7h0M89.1 323.3h0M93.7 335.8h0M93.3 340.4h0M94.4 329.3h0M95.5 342.6h0M91.6 332.6h0M95.5 339.8h0M94.9 355.9h0M94.7 349.7h0M92.0 340.8h0M92.6 325.5h0M92.6 340.1h0M96.1 350.2h0M94.4 334.9h0M72.9 301.7h0M64.3 296.0h0M85.5 304.7h0M80.3 296.3h0M62.4 297.9h0M61.0 304.4h0M58.3 301.6h0M68.7 306.0h0M64.8 299.9h0M66.4 303.3h0M68.8 297.5h0M57.2 305.6h0M60.0 296.4h0M42.6 297.5h0M44.4 299.4h0M38.7 304.2h0M77.1 299.1h0M41.6 296.3h0M71.0 303.2h0M53.1 305.0h0M65.0 296.4h0M41.2 298.7h0M49.8 305.0h0M63.7 297.1h0M62.1 300.4h0M46.4 297.2h0M59.9 299.4h0M43.7 300.4h0M54.3 292.7h0M68.9 302.6h0M60.1 300.1h0M58.1 301.4h0M49.6 297.3h0M67.7 302.2h0M56.0 303.5h0M44.7 301.3h0M60.7 301.6h0M85.7 303.6h0M73.4 308.8h0M54.9 302.0h0M57.3 300.4h0M62.5 305.7h0M58.4 302.1h0M56.3 298.8h0M70.3 300.5h0M67.3 303.5h0M71.1 294.3h0M65.3 298.7h0M48.9 303.6h0M32.2 299.6h0M64.5 296.9h0M89.5 310.2h0M86.1 300.7h0M62.2 295.2h0M82.1 298.8h0M47.8 298.9h0M58.7 300.3h0M57.6 299.9h0M66.2 299.8h0M58.0 306.7h0M66.8 302.9h0M31.4 301.5h0M67.4 300.8h0M70.0 301.2h0M67.3 296.1h0M70.1 297.4h0M40.0 303.9h0M45.4 305.7h0M56.6 300.2h0M76.7 301.7h0M43.1 309.7h0M76.2 302.2h0M61.8 298.0h0M56.5 297.9h0M62.9 302.4h0M45.5 298.3h0M50.9 299.9h0M68.5 302.3h0M70.6 298.5h0M55.7 299.7h0M62.2 302.3h0M72.2 300.8h0M55.0 301.9h0M29.6 304.5h0M61.1 301.2h0M47.0 303.6h0M60.0 301.8h0M56.0 297.6h0M89.9 295.4h0M45.1 297.2h0M61.7 299.6h0M44.0 297.5h0M65.7 296.5h0M61.2 294.7h0M66.2 298.7h0M88.7 300.3h0M71.1 302.6h0M75.5 303.2h0M70.5 304.0h0M51.5 304.7h0M59.5 302.6h0M90.0 301.1h0M48.2 304.4h0M66.5 301.6h0M43.9 299.9h0M71.2 299.8h0M87.0 294.5h0M50.0 304.2h0M78.4 303.7h0M69.0 294.7h0M52.9 299.0h0M70.7 303.8h0M59.4 300.3h0M50.1 307.1h0M38.7 296.3h0M73.6 303.8h0M63.0 306.0h0M80.1 300.0h0M83.3 299.4h0M68.5 307.4h0M39.1 310.3h0M43.5 306.0h0M40.8 311.8h0M27.1 309.6h0M36.1 308.6h0M32.8 305.8h0M36.5 311.9h0M41.1 305.1h0M37.5 307.8h0M43.1 311.5h0M34.0 307.1h0M27.5 308.4h0M30.0 311.2h0M36.2 309.0h0M41.8 289.6h0M49.3 289.9h0M43.8 291.9h0M75.8 294.1h0M66.3 294.1h0M39.2 292.9h0M84.5 288.3h0M84.9 299.0h0M108.1 299.6h0M58.8 291.7h0M41.2 288.7h0M84.9 293.8h0M38.2 296.7h0M98.3 295.6h0M65.0 292.0h0M38.5 291.1h0M109.1 298.2h0M47.6 298.3h0M102.5 312.7h0M98.3 315.6h0M102.8 299.1h0M100.8 301.1h0M94.3 297.9h0M102.0 300.8h0M100.5 312.0h0M95.6 315.9h0M100.0 307.7h0M95.3 314.8h0M94.9 302.3h0M90.0 316.0h0M103.2 326.5h0M94.0 305.3h0M106.3 303.5h0M102.8 305.8h0M101.3 320.1h0M95.0 312.8h0M96.4 294.6h0M102.1 313.2h0M100.2 319.7h0M99.6 313.2h0M101.0 317.0h0M96.8 310.0h0M100.3 311.2h0M99.0 304.7h0M100.8 306.5h0M102.4 309.7h0M104.9 325.9h0M97.2 299.5h0M91.6 318.4h0M106.1 303.7h0M103.1 294.5h0M104.3 324.3h0M103.3 321.8h0M99.5 319.9h0M99.7 316.1h0M92.0 309.2h0M98.4 316.0h0M101.1 306.2h0M101.0 313.5h0M96.8 292.7h0M98.0 302.3h0M98.3 299.1h0M105.7 311.4h0M99.2 357.0h0M117.3 334.7h0M124.5 353.0h0M107.4 335.5h0M99.3 355.1h0M118.0 344.3h0M101.4 347.6h0M126.2 352.0h0M109.6 323.2h0M115.9 321.9h0M108.6 335.4h0M125.7 347.6h0M98.2 340.1h0M116.1 329.1h0M113.8 321.9h0M118.9 341.9h0M125.2 353.6h0M104.1 322.0h0M116.4 345.2h0M119.2 331.8h0M36.4 353.1h0M40.8 342.5h0M29.6 351.2h0M33.9 355.7h0M46.3 345.9h0M31.9 337.5h0M39.4 351.4h0M29.1 345.5h0M35.6 346.5h0M40.7 346.1h0" stroke="#000" stroke-width="1.16" stroke-linecap="round" fill="none" opacity="1.0"/>
<path d="M41.7 319.4C42.0 317.8 46.4 315.5 49.5 313.8C52.6 312.1 56.7 310.9 60.5 309.3C64.3 307.7 68.7 305.5 72.5 304.0C76.3 302.5 80.3 301.1 83.3 300.4C86.3 299.7 88.4 299.2 90.4 299.8C92.4 300.4 94.6 301.9 95.2 303.9C95.8 305.9 95.2 309.2 94.0 311.7C92.8 314.2 90.2 316.6 88.0 318.8C85.8 321.0 83.3 323.0 80.9 324.8C78.5 326.6 76.4 328.6 73.8 329.6C71.2 330.6 68.4 331.1 65.4 330.8C62.4 330.5 58.9 329.0 55.9 327.8C52.9 326.6 49.9 325.0 47.5 323.6C45.1 322.2 41.4 321.0 41.7 319.4Z" fill="none" stroke="#000" stroke-width="3.6"/>
<path d="M41.7 319.4C42.0 317.8 46.4 315.5 49.5 313.8C52.6 312.1 56.7 310.9 60.5 309.3C64.3 307.7 68.7 305.5 72.5 304.0C76.3 302.5 80.3 301.1 83.3 300.4C86.3 299.7 88.4 299.2 90.4 299.8C92.4 300.4 94.6 301.9 95.2 303.9C95.8 305.9 95.2 309.2 94.0 311.7C92.8 314.2 90.2 316.6 88.0 318.8C85.8 321.0 83.3 323.0 80.9 324.8C78.5 326.6 76.4 328.6 73.8 329.6C71.2 330.6 68.4 331.1 65.4 330.8C62.4 330.5 58.9 329.0 55.9 327.8C52.9 326.6 49.9 325.0 47.5 323.6C45.1 322.2 41.4 321.0 41.7 319.4Z" fill="#fff" stroke="#ddd" stroke-width="0.6"/>
<path d="M44.0 319.3C44.3 317.8 48.2 315.7 51.0 314.2C53.9 312.7 57.5 311.6 61.0 310.2C64.4 308.7 68.3 306.7 71.8 305.4C75.2 304.1 78.8 302.8 81.5 302.2C84.2 301.5 86.1 301.1 87.9 301.6C89.6 302.1 91.6 303.5 92.2 305.3C92.7 307.1 92.2 310.1 91.1 312.3C90.0 314.6 87.7 316.8 85.7 318.7C83.7 320.7 81.4 322.5 79.3 324.1C77.2 325.7 75.2 327.5 72.9 328.4C70.6 329.3 68.0 329.8 65.4 329.5C62.7 329.2 59.5 327.9 56.8 326.8C54.1 325.7 51.4 324.3 49.2 323.0C47.1 321.8 43.7 320.7 44.0 319.3Z" fill="none" stroke="#6a6a6a" stroke-width="0.55"/>
<path d="M46.4 319.1C46.6 317.8 50.1 316.0 52.6 314.6C55.1 313.3 58.3 312.3 61.4 311.0C64.5 309.7 68.0 308.0 71.0 306.8C74.0 305.6 77.3 304.5 79.6 303.9C82.0 303.4 83.7 303.0 85.3 303.4C86.9 303.9 88.7 305.1 89.2 306.7C89.6 308.3 89.2 311.0 88.2 313.0C87.2 314.9 85.1 316.9 83.4 318.6C81.7 320.4 79.6 322.0 77.7 323.4C75.8 324.9 74.1 326.5 72.0 327.3C70.0 328.1 67.7 328.5 65.3 328.2C62.9 328.0 60.1 326.8 57.7 325.8C55.3 324.9 52.9 323.6 51.0 322.5C49.1 321.4 46.1 320.4 46.4 319.1Z" fill="none" stroke="#6a6a6a" stroke-width="0.55"/>
<path d="M48.7 319.0C48.9 317.8 52.0 316.2 54.1 315.1C56.3 313.9 59.2 313.1 61.9 311.9C64.5 310.8 67.6 309.2 70.2 308.2C72.9 307.2 75.7 306.2 77.8 305.7C79.9 305.2 81.4 304.9 82.8 305.3C84.2 305.7 85.7 306.7 86.1 308.1C86.6 309.5 86.1 311.9 85.3 313.6C84.5 315.3 82.6 317.0 81.1 318.6C79.6 320.1 77.8 321.5 76.1 322.8C74.5 324.0 73.0 325.4 71.2 326.1C69.4 326.8 67.4 327.2 65.3 327.0C63.2 326.8 60.7 325.7 58.6 324.9C56.5 324.0 54.4 322.9 52.8 321.9C51.1 320.9 48.5 320.1 48.7 319.0Z" fill="none" stroke="#6a6a6a" stroke-width="0.55"/>
<path d="M51.0 318.8C51.2 317.9 53.8 316.5 55.7 315.5C57.6 314.5 60.0 313.8 62.3 312.8C64.6 311.8 67.2 310.5 69.5 309.6C71.8 308.7 74.2 307.9 76.0 307.4C77.8 307.0 79.0 306.7 80.2 307.1C81.4 307.4 82.8 308.4 83.1 309.5C83.5 310.7 83.1 312.7 82.4 314.2C81.7 315.7 80.1 317.2 78.8 318.5C77.5 319.8 76.0 321.0 74.5 322.1C73.1 323.2 71.8 324.4 70.3 325.0C68.7 325.6 67.0 325.9 65.2 325.7C63.4 325.5 61.3 324.6 59.5 323.9C57.8 323.2 55.9 322.2 54.5 321.4C53.1 320.5 50.8 319.8 51.0 318.8Z" fill="none" stroke="#6a6a6a" stroke-width="0.55"/>
<path d="M76.6 315.9C76.9 317.1 76.7 318.5 76.0 319.8C75.2 321.0 73.9 322.4 72.3 323.4C70.8 324.4 68.7 325.3 66.7 325.8C64.8 326.3 62.5 326.5 60.7 326.3C58.9 326.1 57.0 325.6 55.8 324.8C54.6 324.0 53.6 322.9 53.4 321.7C53.1 320.5 53.3 319.1 54.0 317.8C54.8 316.6 56.1 315.2 57.7 314.2C59.2 313.2 61.3 312.3 63.3 311.8C65.2 311.3 67.5 311.1 69.3 311.3C71.1 311.5 73.0 312.0 74.2 312.8C75.4 313.6 76.4 314.7 76.6 315.9Z" fill="#c4c4c4" stroke="#333" stroke-width="0.7"/>
<path d="M75.1 316.3C75.4 317.3 75.1 318.6 74.5 319.6C73.9 320.7 72.8 321.9 71.5 322.7C70.2 323.6 68.4 324.3 66.7 324.7C65.1 325.1 63.1 325.3 61.6 325.2C60.0 325.0 58.4 324.6 57.4 323.9C56.4 323.3 55.6 322.3 55.3 321.3C55.1 320.3 55.3 319.0 55.9 318.0C56.5 316.9 57.7 315.7 59.0 314.9C60.3 314.0 62.1 313.3 63.7 312.9C65.4 312.5 67.3 312.3 68.9 312.4C70.4 312.6 72.0 313.0 73.1 313.7C74.1 314.3 74.9 315.3 75.1 316.3Z" fill="#8a8a8a" stroke="#222" stroke-width="0.9"/>
<path d="M73.6 316.8C73.8 317.6 73.6 318.6 73.1 319.5C72.6 320.4 71.7 321.3 70.6 322.0C69.5 322.7 68.0 323.4 66.7 323.7C65.3 324.0 63.7 324.2 62.4 324.1C61.2 323.9 59.9 323.5 59.0 323.0C58.1 322.5 57.5 321.6 57.3 320.8C57.1 320.0 57.3 319.0 57.8 318.1C58.3 317.2 59.2 316.3 60.3 315.6C61.4 314.9 62.9 314.2 64.2 313.9C65.6 313.6 67.2 313.4 68.5 313.5C69.7 313.7 71.0 314.1 71.9 314.6C72.8 315.1 73.4 316.0 73.6 316.8Z" fill="#7a7a7a" stroke="#333" stroke-width="0.7"/>
<path d="M72.1 317.2C72.2 317.8 72.1 318.7 71.7 319.3C71.3 320.0 70.6 320.8 69.7 321.3C68.9 321.9 67.7 322.4 66.6 322.6C65.6 322.9 64.3 323.0 63.3 322.9C62.3 322.8 61.3 322.5 60.6 322.1C59.9 321.7 59.4 321.0 59.3 320.4C59.1 319.8 59.3 318.9 59.7 318.3C60.0 317.6 60.8 316.8 61.6 316.3C62.5 315.7 63.6 315.2 64.7 315.0C65.8 314.7 67.0 314.6 68.0 314.7C69.1 314.8 70.1 315.1 70.7 315.5C71.4 315.9 71.9 316.6 72.1 317.2Z" fill="#999" stroke="#444" stroke-width="0.6"/>
<path d="M70.6 317.6C70.7 318.1 70.6 318.7 70.3 319.2C70.0 319.7 69.4 320.2 68.8 320.6C68.2 321.0 67.4 321.4 66.6 321.6C65.8 321.8 64.9 321.9 64.2 321.8C63.4 321.7 62.7 321.5 62.2 321.2C61.7 320.9 61.4 320.4 61.2 320.0C61.1 319.5 61.2 318.9 61.5 318.4C61.8 317.9 62.4 317.4 63.0 317.0C63.6 316.6 64.4 316.2 65.2 316.0C66.0 315.8 66.9 315.7 67.6 315.8C68.4 315.9 69.1 316.1 69.6 316.4C70.1 316.7 70.4 317.2 70.6 317.6Z" fill="#bbb" stroke="#666" stroke-width="0.5"/>
<path d="M69.0 318.1C69.1 318.4 69.0 318.7 68.9 319.0C68.7 319.4 68.3 319.7 68.0 319.9C67.6 320.2 67.0 320.4 66.6 320.5C66.1 320.7 65.5 320.7 65.0 320.7C64.6 320.6 64.1 320.5 63.8 320.3C63.5 320.1 63.3 319.8 63.2 319.5C63.1 319.2 63.2 318.9 63.4 318.6C63.6 318.2 63.9 317.9 64.3 317.7C64.7 317.4 65.2 317.2 65.7 317.1C66.2 316.9 66.7 316.9 67.2 316.9C67.7 317.0 68.1 317.1 68.4 317.3C68.7 317.5 69.0 317.8 69.0 318.1Z" fill="#e4e4e4" stroke="#999" stroke-width="0.5"/>
<path d="M92.2 302.7C92.8 303.4 93.2 304.4 93.2 305.4C93.3 306.4 93.0 307.7 92.4 308.7C91.9 309.8 91.0 310.9 90.0 311.7C89.1 312.5 87.8 313.2 86.7 313.6C85.6 313.9 84.3 314.0 83.3 313.8C82.3 313.6 81.3 313.0 80.8 312.3C80.2 311.6 79.8 310.6 79.8 309.6C79.7 308.6 80.0 307.3 80.6 306.3C81.1 305.2 82.0 304.1 83.0 303.3C83.9 302.5 85.2 301.8 86.3 301.4C87.4 301.1 88.7 301.0 89.7 301.2C90.7 301.4 91.7 302.0 92.2 302.7Z" fill="none" stroke="#6a6a6a" stroke-width="0.5"/>
<path d="M90.8 303.9C91.3 304.4 91.5 305.2 91.6 305.9C91.6 306.7 91.4 307.6 91.0 308.4C90.5 309.2 89.9 310.1 89.2 310.7C88.4 311.3 87.5 311.8 86.6 312.0C85.8 312.3 84.8 312.4 84.1 312.2C83.4 312.1 82.6 311.6 82.2 311.1C81.7 310.6 81.5 309.8 81.4 309.1C81.4 308.3 81.6 307.4 82.0 306.6C82.5 305.8 83.1 304.9 83.8 304.3C84.6 303.7 85.5 303.2 86.4 303.0C87.2 302.7 88.2 302.6 88.9 302.8C89.6 302.9 90.4 303.4 90.8 303.9Z" fill="none" stroke="#6a6a6a" stroke-width="0.5"/>
<path d="M89.4 305.1C89.7 305.4 89.9 306.0 89.9 306.5C89.9 307.0 89.7 307.6 89.5 308.1C89.2 308.6 88.7 309.2 88.3 309.6C87.8 310.0 87.2 310.4 86.6 310.5C86.0 310.7 85.4 310.7 84.9 310.6C84.4 310.5 83.9 310.3 83.6 309.9C83.3 309.6 83.1 309.0 83.1 308.5C83.1 308.0 83.3 307.4 83.5 306.9C83.8 306.4 84.3 305.8 84.7 305.4C85.2 305.0 85.8 304.6 86.4 304.5C87.0 304.3 87.6 304.3 88.1 304.4C88.6 304.5 89.1 304.7 89.4 305.1Z" fill="none" stroke="#6a6a6a" stroke-width="0.5"/>
<path d="M80.2 331.0C81.4 331.0 83.1 331.8 83.8 333.0C84.5 334.2 84.7 336.5 84.6 338.5C84.5 340.5 83.7 343.2 83.0 345.0C82.3 346.8 81.2 349.0 80.3 349.0C79.4 349.0 78.3 346.8 77.6 345.0C76.8 343.2 75.9 340.5 75.8 338.5C75.7 336.5 76.1 334.2 76.8 333.0C77.5 331.8 79.0 331.0 80.2 331.0Z" fill="#fff"/>
<path d="M27.2 335.5V304.3H72.6L79.1 309.3L81.5 320.6" fill="none" stroke="#444" stroke-width="0.8"/>
<path d="M27.2 335.5H62M92.5 335.5V357.7" fill="none" stroke="#444" stroke-width="0.8"/>
<path d="M148.9 327.4h0M174.2 321.0h0M151.6 330.6h0M183.5 322.0h0M167.2 313.5h0M171.5 308.3h0M182.7 313.4h0M187.1 325.2h0M141.8 316.3h0M166.8 309.8h0M148.3 331.4h0M146.7 334.8h0M164.4 323.2h0M158.4 321.1h0M182.0 312.6h0M180.6 329.7h0M171.2 328.7h0M146.6 320.9h0M162.0 317.4h0M164.3 318.1h0M166.7 321.3h0M169.6 329.2h0M151.9 325.0h0M169.9 325.4h0M149.7 311.4h0M158.7 334.8h0M158.6 324.6h0M156.5 309.4h0M143.5 331.3h0M181.8 317.7h0M176.8 327.0h0M191.7 324.4h0M187.5 321.3h0M160.2 313.8h0M143.7 331.0h0M181.6 321.1h0M153.9 315.1h0M162.6 311.5h0M143.7 316.6h0M180.1 321.0h0M146.8 324.4h0M162.8 326.7h0M164.6 316.9h0M165.0 320.5h0M149.7 329.5h0M161.5 321.8h0M152.5 325.0h0M158.1 325.1h0M151.1 312.3h0M167.3 327.2h0M149.5 316.8h0M153.3 323.7h0M143.3 334.5h0M161.1 324.2h0M160.6 327.5h0M165.5 327.0h0M166.9 335.3h0M156.0 323.4h0M152.0 324.7h0M153.1 326.2h0M160.2 329.3h0M150.1 332.6h0M156.0 325.4h0M154.5 314.2h0M159.9 315.5h0M165.8 326.3h0M169.0 330.0h0M163.0 334.4h0M157.8 335.3h0M157.2 327.6h0M153.4 329.3h0M162.8 323.1h0M149.2 325.9h0M161.0 325.1h0M151.3 321.8h0M156.2 310.4h0M154.0 334.6h0M149.1 324.8h0M169.8 330.3h0M164.5 325.2h0M160.2 327.5h0M169.5 330.9h0M158.5 319.5h0M157.0 325.2h0M153.3 320.9h0M161.7 345.3h0M156.9 342.0h0M142.1 346.2h0M150.4 351.6h0M174.3 352.0h0M159.2 342.2h0M156.2 347.2h0M166.5 356.8h0M143.6 347.1h0M160.7 351.8h0M177.4 353.1h0M166.3 352.7h0M168.1 354.7h0M169.4 351.2h0M150.3 355.8h0M156.2 349.8h0M174.6 356.8h0M181.5 337.6h0M153.1 343.7h0M156.4 340.4h0M163.2 339.1h0M152.7 356.4h0M171.2 346.7h0M144.5 356.6h0M169.6 341.6h0M154.1 350.3h0M168.6 342.7h0M180.0 343.9h0M150.7 354.4h0M146.4 351.1h0M148.4 349.5h0M151.7 345.1h0M179.5 346.8h0M158.3 349.8h0M151.8 341.0h0M156.2 342.9h0M147.9 356.7h0M141.4 353.7h0M179.3 351.6h0M140.8 347.5h0M141.6 349.7h0M169.4 342.3h0M140.3 348.4h0M144.0 343.7h0M159.1 355.4h0M155.5 340.2h0M173.3 353.9h0M162.2 338.5h0M147.9 345.6h0M163.2 342.0h0M173.7 354.4h0M178.9 355.2h0M140.7 349.1h0M143.4 355.5h0M171.4 352.7h0M147.9 338.7h0M174.2 349.6h0M166.1 346.9h0M173.6 344.3h0M151.3 344.6h0M152.5 350.0h0M177.4 338.9h0M142.8 347.7h0M168.5 341.3h0M151.3 338.7h0M141.6 347.4h0M168.6 350.6h0M146.6 339.6h0M179.1 348.3h0M157.2 351.3h0M170.6 348.0h0M143.3 354.0h0M149.0 338.3h0M154.8 348.2h0M166.4 341.0h0M169.8 347.4h0M146.8 354.5h0M173.9 355.6h0M168.5 341.8h0M172.7 355.6h0M162.4 355.7h0M180.7 345.3h0M179.6 356.2h0M173.3 337.7h0M154.8 349.8h0M165.5 352.6h0M167.2 340.7h0M179.1 348.2h0M177.0 341.6h0M181.9 348.6h0M172.6 352.3h0M177.1 344.7h0M143.5 345.6h0M147.5 348.3h0M174.2 344.7h0M145.5 338.0h0M157.8 349.1h0M141.1 350.8h0M148.9 339.6h0M179.0 348.0h0M177.6 347.8h0M145.2 342.3h0M157.8 350.3h0M172.4 352.5h0M167.3 342.6h0M158.1 345.1h0M160.6 342.8h0M162.6 346.7h0M141.5 354.0h0M164.6 353.6h0M170.9 352.1h0M181.7 345.0h0M156.5 337.6h0M167.9 349.1h0M164.2 357.5h0M184.8 290.7h0M211.7 297.7h0M199.1 288.7h0M193.5 297.9h0M200.0 293.5h0M194.5 295.5h0M204.9 296.3h0M218.3 297.0h0M193.7 291.0h0M214.1 297.5h0M221.4 290.4h0M217.4 298.7h0M178.9 291.7h0M206.7 289.8h0M213.8 320.5h0M200.9 295.9h0M196.0 295.0h0M213.9 311.4h0M195.4 293.7h0M218.6 307.4h0M206.3 293.2h0M186.9 302.0h0M217.6 311.3h0M211.7 323.6h0M213.3 308.3h0M215.9 303.6h0M215.3 290.4h0M206.8 292.8h0M218.1 306.5h0M204.8 291.2h0M216.8 315.6h0M216.3 296.7h0M196.1 294.3h0M217.2 307.1h0M211.6 295.3h0M213.5 303.0h0M186.9 298.8h0M214.2 318.1h0M203.4 291.9h0M186.5 302.7h0M194.3 296.9h0M210.8 320.7h0M196.7 296.2h0M190.5 299.6h0M209.1 293.1h0M218.0 311.7h0M214.6 299.6h0M215.6 304.0h0M188.9 299.9h0M211.2 318.6h0M215.5 298.3h0M201.5 292.3h0M217.7 336.5h0M218.4 331.4h0M212.6 319.9h0M228.0 330.9h0M222.4 307.3h0M228.7 303.2h0M229.4 331.0h0M225.0 321.2h0M215.0 313.6h0M224.0 326.2h0M202.5 353.0h0M199.5 342.7h0M199.8 343.5h0M206.1 352.1h0M200.3 343.2h0M200.0 350.2h0M203.0 341.6h0M202.4 354.3h0M202.8 350.8h0M204.6 346.5h0M204.0 344.3h0M200.8 346.9h0M201.7 343.6h0M200.7 355.3h0" stroke="#000" stroke-width="1.1" stroke-linecap="round" fill="none" opacity="1.0"/>
<path d="M165.5 320.0C165.5 317.7 166.8 316.2 168.0 315.0C169.2 313.8 171.0 313.0 173.0 312.5C175.0 312.0 177.7 311.6 180.0 312.0C182.3 312.4 185.0 313.7 187.0 315.0C189.0 316.3 190.8 318.2 192.0 320.0C193.2 321.8 194.3 324.0 194.0 326.0C193.7 328.0 191.8 330.4 190.0 332.0C188.2 333.6 185.7 335.1 183.0 335.5C180.3 335.9 176.5 335.6 174.0 334.5C171.5 333.4 169.4 331.4 168.0 329.0C166.6 326.6 165.5 322.3 165.5 320.0Z" fill="#fff" stroke="#222" stroke-width="0.8"/>
<path d="M167.7 320.5C167.7 318.4 168.8 317.1 169.9 316.0C171.0 314.9 172.6 314.2 174.4 313.8C176.2 313.3 178.6 312.9 180.7 313.3C182.8 313.7 185.2 314.8 187.0 316.0C188.8 317.2 190.4 318.9 191.5 320.5C192.6 322.1 193.6 324.1 193.3 325.9C193.0 327.7 191.4 329.9 189.7 331.3C188.1 332.7 185.8 334.1 183.4 334.4C181.0 334.8 177.6 334.5 175.3 333.6C173.1 332.6 171.2 330.8 169.9 328.6C168.6 326.4 167.7 322.6 167.7 320.5Z" fill="#f2f2f2" stroke="#555" stroke-width="0.5"/>
<path d="M169.8 321.0C169.8 319.1 170.8 318.0 171.8 317.0C172.8 316.0 174.2 315.4 175.8 315.0C177.4 314.6 179.5 314.3 181.4 314.6C183.3 314.9 185.4 315.9 187.0 317.0C188.6 318.1 190.1 319.5 191.0 321.0C191.9 322.5 192.9 324.2 192.6 325.8C192.3 327.4 190.9 329.3 189.4 330.6C187.9 331.9 185.9 333.1 183.8 333.4C181.7 333.7 178.6 333.5 176.6 332.6C174.6 331.7 172.9 330.1 171.8 328.2C170.7 326.3 169.8 322.9 169.8 321.0Z" fill="#e2e2e2" stroke="#444" stroke-width="0.5"/>
<path d="M171.9 321.5C171.9 319.9 172.8 318.9 173.7 318.0C174.6 317.1 175.8 316.6 177.2 316.2C178.6 315.9 180.5 315.6 182.1 315.9C183.7 316.2 185.6 317.1 187.0 318.0C188.4 318.9 189.7 320.2 190.5 321.5C191.3 322.8 192.1 324.3 191.9 325.7C191.7 327.1 190.4 328.8 189.1 329.9C187.8 331.0 186.1 332.1 184.2 332.4C182.3 332.6 179.6 332.4 177.9 331.6C176.1 330.9 174.7 329.5 173.7 327.8C172.7 326.1 171.9 323.1 171.9 321.5Z" fill="#d2d2d2" stroke="#333" stroke-width="0.5"/>
<path d="M174.1 322.0C174.1 320.6 174.8 319.8 175.6 319.0C176.3 318.2 177.4 317.8 178.6 317.5C179.8 317.2 181.4 316.9 182.8 317.2C184.2 317.4 185.8 318.2 187.0 319.0C188.2 319.8 189.3 320.9 190.0 322.0C190.7 323.1 191.4 324.4 191.2 325.6C191.0 326.8 189.9 328.2 188.8 329.2C187.7 330.1 186.2 331.1 184.6 331.3C183.0 331.6 180.7 331.4 179.2 330.7C177.7 330.0 176.4 328.8 175.6 327.4C174.8 325.9 174.1 323.4 174.1 322.0Z" fill="#c2c2c2" stroke="#333" stroke-width="0.5"/>
<path d="M176.2 322.5C176.2 321.3 176.9 320.6 177.5 320.0C178.1 319.4 179.0 319.0 180.0 318.8C181.0 318.5 182.3 318.3 183.5 318.5C184.7 318.7 186.0 319.3 187.0 320.0C188.0 320.7 188.9 321.6 189.5 322.5C190.1 323.4 190.7 324.5 190.5 325.5C190.3 326.5 189.4 327.7 188.5 328.5C187.6 329.3 186.3 330.0 185.0 330.2C183.7 330.5 181.8 330.3 180.5 329.8C179.2 329.2 178.2 328.2 177.5 327.0C176.8 325.8 176.2 323.7 176.2 322.5Z" fill="#b4b4b4" stroke="#333" stroke-width="0.5"/>
<path d="M178.4 323.0C178.4 322.1 178.9 321.5 179.4 321.0C179.9 320.5 180.6 320.2 181.4 320.0C182.2 319.8 183.3 319.6 184.2 319.8C185.1 320.0 186.2 320.5 187.0 321.0C187.8 321.5 188.5 322.3 189.0 323.0C189.5 323.7 189.9 324.6 189.8 325.4C189.7 326.2 188.9 327.2 188.2 327.8C187.5 328.4 186.5 329.0 185.4 329.2C184.3 329.4 182.8 329.2 181.8 328.8C180.8 328.4 180.0 327.6 179.4 326.6C178.8 325.6 178.4 323.9 178.4 323.0Z" fill="#aaa" stroke="#444" stroke-width="0.5"/>
<path d="M181.0 323.6C181.0 322.9 181.3 322.6 181.7 322.2C182.0 321.8 182.5 321.6 183.1 321.5C183.6 321.4 184.4 321.2 185.0 321.4C185.7 321.5 186.4 321.8 187.0 322.2C187.6 322.6 188.1 323.1 188.4 323.6C188.7 324.1 189.1 324.7 189.0 325.3C188.9 325.8 188.4 326.5 187.8 327.0C187.3 327.4 186.6 327.8 185.9 327.9C185.1 328.1 184.1 328.0 183.4 327.7C182.7 327.4 182.1 326.8 181.7 326.1C181.3 325.4 181.0 324.3 181.0 323.6Z" fill="#c4c4c4" stroke="#666" stroke-width="0.5"/>
<path d="M184.0 314.0C184.3 311.9 186.0 308.3 187.5 306.0C189.0 303.7 191.1 301.5 193.0 300.0C194.9 298.5 197.0 297.5 199.0 296.8C201.0 296.1 203.0 295.8 205.0 296.0C207.0 296.2 209.5 296.9 211.0 298.0C212.5 299.1 213.6 300.7 214.0 302.5C214.4 304.3 214.1 306.8 213.5 309.0C212.9 311.2 211.5 313.8 210.5 316.0C209.5 318.2 208.3 320.0 207.5 322.0C206.7 324.0 206.8 326.8 205.5 328.0C204.2 329.2 201.9 329.8 200.0 329.5C198.1 329.2 195.8 327.2 194.0 326.0C192.2 324.8 190.4 323.2 189.0 322.0C187.6 320.8 186.3 319.8 185.5 318.5C184.7 317.2 183.7 316.1 184.0 314.0Z" fill="#fff" stroke="#222" stroke-width="0.8"/>
<path d="M185.6 313.8C185.9 311.9 187.3 308.7 188.7 306.6C190.0 304.5 191.9 302.6 193.7 301.2C195.4 299.8 197.2 298.9 199.1 298.3C200.9 297.7 202.6 297.4 204.4 297.6C206.2 297.8 208.5 298.4 209.8 299.4C211.2 300.4 212.2 301.8 212.6 303.4C212.9 305.1 212.6 307.3 212.1 309.3C211.6 311.3 210.3 313.7 209.4 315.6C208.5 317.6 207.4 319.2 206.7 321.0C205.9 322.8 206.0 325.3 204.9 326.4C203.8 327.5 201.7 328.1 199.9 327.8C198.2 327.4 196.2 325.7 194.6 324.6C192.9 323.5 191.3 322.1 190.1 321.0C188.8 319.9 187.7 319.1 186.9 317.9C186.2 316.7 185.2 315.7 185.6 313.8Z" fill="#f0f0f0" stroke="#555" stroke-width="0.5"/>
<path d="M187.1 313.6C187.4 311.9 188.7 309.1 189.9 307.2C191.1 305.3 192.8 303.6 194.3 302.4C195.8 301.2 197.5 300.4 199.1 299.8C200.7 299.3 202.3 299.0 203.9 299.2C205.5 299.4 207.5 299.9 208.7 300.8C209.9 301.7 210.8 302.9 211.1 304.4C211.4 305.9 211.2 307.8 210.7 309.6C210.2 311.4 209.1 313.5 208.3 315.2C207.5 316.9 206.6 318.4 205.9 320.0C205.2 321.6 205.3 323.8 204.3 324.8C203.3 325.8 201.4 326.3 199.9 326.0C198.4 325.7 196.6 324.2 195.1 323.2C193.6 322.2 192.2 321.0 191.1 320.0C190.0 319.0 189.0 318.3 188.3 317.2C187.6 316.1 186.8 315.3 187.1 313.6Z" fill="#e0e0e0" stroke="#444" stroke-width="0.5"/>
<path d="M188.7 313.4C188.9 311.9 190.1 309.4 191.1 307.8C192.1 306.2 193.6 304.7 194.9 303.6C196.3 302.5 197.8 301.8 199.2 301.4C200.6 300.9 201.9 300.7 203.3 300.8C204.8 300.9 206.5 301.4 207.6 302.2C208.6 303.0 209.4 304.1 209.7 305.4C209.9 306.6 209.7 308.3 209.3 309.9C208.9 311.5 207.9 313.3 207.2 314.8C206.5 316.3 205.7 317.6 205.1 319.0C204.5 320.4 204.6 322.3 203.7 323.2C202.8 324.1 201.2 324.5 199.8 324.2C198.5 324.0 196.9 322.7 195.7 321.8C194.4 320.9 193.1 319.9 192.2 319.0C191.2 318.1 190.3 317.5 189.7 316.6C189.1 315.6 188.4 314.9 188.7 313.4Z" fill="#cfcfcf" stroke="#333" stroke-width="0.5"/>
<path d="M207.2 304.1C207.8 304.9 208.3 305.9 208.3 307.1C208.4 308.2 208.2 309.6 207.7 310.9C207.1 312.1 206.3 313.6 205.3 314.8C204.2 316.0 202.9 317.2 201.6 318.1C200.3 318.9 198.8 319.7 197.5 320.0C196.1 320.4 194.7 320.5 193.6 320.3C192.5 320.1 191.5 319.6 190.8 318.9C190.2 318.1 189.7 317.1 189.7 315.9C189.6 314.8 189.8 313.4 190.3 312.1C190.9 310.9 191.7 309.4 192.7 308.2C193.8 307.0 195.1 305.8 196.4 304.9C197.7 304.1 199.2 303.3 200.5 303.0C201.9 302.6 203.3 302.5 204.4 302.7C205.5 302.9 206.5 303.4 207.2 304.1Z" fill="#555" stroke="#111" stroke-width="1.2"/>
<path d="M206.3 305.0C206.9 305.7 207.2 306.6 207.3 307.5C207.4 308.5 207.2 309.7 206.7 310.8C206.3 311.9 205.5 313.2 204.7 314.2C203.8 315.2 202.6 316.3 201.5 317.0C200.4 317.8 199.1 318.4 198.0 318.7C196.8 319.0 195.6 319.1 194.6 318.9C193.7 318.8 192.8 318.3 192.2 317.7C191.7 317.1 191.3 316.1 191.2 315.2C191.2 314.2 191.4 313.0 191.8 311.9C192.3 310.8 193.0 309.6 193.9 308.5C194.8 307.5 195.9 306.5 197.0 305.7C198.1 305.0 199.5 304.3 200.6 304.0C201.8 303.7 203.0 303.6 203.9 303.8C204.9 303.9 205.7 304.4 206.3 305.0Z" fill="#666" stroke="#111" stroke-width="1.0"/>
<path d="M205.3 306.0C205.8 306.6 206.1 307.3 206.1 308.1C206.2 308.9 206.0 309.9 205.7 310.8C205.3 311.7 204.7 312.7 204.0 313.5C203.3 314.3 202.3 315.2 201.4 315.8C200.5 316.4 199.5 316.9 198.5 317.2C197.6 317.4 196.6 317.5 195.8 317.4C195.1 317.2 194.3 316.9 193.9 316.4C193.4 315.8 193.1 315.1 193.1 314.3C193.0 313.5 193.2 312.5 193.5 311.6C193.9 310.7 194.5 309.7 195.2 308.9C195.9 308.1 196.9 307.2 197.8 306.6C198.7 306.0 199.7 305.5 200.7 305.2C201.6 305.0 202.6 304.9 203.4 305.0C204.1 305.2 204.9 305.5 205.3 306.0Z" fill="#999" stroke="#333" stroke-width="0.7"/>
<path d="M204.3 307.1C204.7 307.5 204.9 308.0 205.0 308.6C205.0 309.2 204.9 310.0 204.6 310.7C204.3 311.4 203.8 312.2 203.3 312.8C202.8 313.5 202.0 314.1 201.3 314.6C200.6 315.1 199.8 315.4 199.1 315.7C198.4 315.9 197.6 315.9 197.0 315.8C196.4 315.7 195.9 315.4 195.5 315.0C195.2 314.6 194.9 314.0 194.9 313.4C194.8 312.8 195.0 312.1 195.2 311.4C195.5 310.7 196.0 309.9 196.5 309.3C197.1 308.6 197.8 308.0 198.5 307.5C199.2 307.0 200.0 306.6 200.8 306.4C201.5 306.2 202.2 306.2 202.8 306.3C203.4 306.4 204.0 306.7 204.3 307.1Z" fill="#aaa" stroke="#444" stroke-width="0.6"/>
<path d="M203.3 308.1C203.6 308.4 203.8 308.8 203.8 309.2C203.8 309.6 203.7 310.1 203.5 310.6C203.3 311.1 203.0 311.7 202.6 312.1C202.2 312.6 201.7 313.0 201.2 313.4C200.7 313.7 200.2 314.0 199.7 314.1C199.1 314.3 198.6 314.3 198.2 314.2C197.8 314.2 197.4 314.0 197.1 313.7C196.9 313.4 196.7 313.0 196.7 312.6C196.7 312.1 196.8 311.6 197.0 311.1C197.1 310.6 197.5 310.1 197.9 309.6C198.2 309.2 198.8 308.7 199.2 308.4C199.7 308.1 200.3 307.8 200.8 307.6C201.3 307.5 201.9 307.5 202.3 307.5C202.7 307.6 203.1 307.8 203.3 308.1Z" fill="#ccc" stroke="#777" stroke-width="0.5"/>
<path d="M202.4 309.1C202.5 309.3 202.6 309.5 202.6 309.7C202.6 310.0 202.6 310.3 202.5 310.6C202.4 310.9 202.2 311.2 201.9 311.4C201.7 311.7 201.4 312.0 201.1 312.2C200.8 312.4 200.5 312.5 200.2 312.6C199.9 312.7 199.6 312.7 199.4 312.7C199.1 312.6 198.9 312.5 198.8 312.3C198.6 312.2 198.5 311.9 198.5 311.7C198.5 311.5 198.5 311.1 198.7 310.9C198.8 310.6 199.0 310.3 199.2 310.0C199.4 309.7 199.7 309.5 200.0 309.3C200.3 309.1 200.6 308.9 200.9 308.8C201.2 308.8 201.5 308.7 201.7 308.8C202.0 308.8 202.2 308.9 202.4 309.1Z" fill="#f4f4f4" stroke="#aaa" stroke-width="0.4"/>
<path d="M180.5 330.0C181.7 327.9 185.4 327.0 188.0 326.5C190.6 326.0 193.6 326.2 196.0 327.0C198.4 327.8 201.7 328.8 202.5 331.0C203.3 333.2 201.8 337.0 201.0 340.0C200.2 343.0 198.7 346.0 198.0 349.0C197.3 352.0 199.3 356.3 197.0 357.8C194.7 359.3 186.3 359.3 184.0 357.8C181.7 356.3 183.5 352.1 183.0 349.0C182.5 345.9 181.4 342.2 181.0 339.0C180.6 335.8 179.3 332.1 180.5 330.0Z" fill="#fff" stroke="#222" stroke-width="0.8"/>
<path d="M181.8 331.1C182.8 329.2 186.1 328.4 188.4 328.0C190.6 327.6 193.3 327.8 195.4 328.4C197.5 329.1 200.4 330.1 201.1 332.0C201.9 333.9 200.5 337.2 199.8 339.9C199.1 342.5 197.7 345.2 197.2 347.8C196.6 350.4 198.3 354.3 196.3 355.5C194.2 356.8 186.9 356.8 184.8 355.5C182.8 354.3 184.4 350.6 184.0 347.8C183.5 345.0 182.6 341.8 182.2 339.0C181.8 336.2 180.7 332.9 181.8 331.1Z" fill="#eaeaea" stroke="#444" stroke-width="0.5"/>
<path d="M183.0 332.2C183.9 330.6 186.8 329.9 188.7 329.5C190.7 329.1 193.0 329.3 194.8 329.9C196.6 330.4 199.1 331.3 199.7 332.9C200.4 334.6 199.2 337.5 198.6 339.8C198.0 342.0 196.8 344.3 196.3 346.6C195.8 348.9 197.3 352.2 195.6 353.3C193.8 354.4 187.5 354.4 185.7 353.3C183.9 352.2 185.3 349.0 184.9 346.6C184.5 344.2 183.7 341.4 183.4 339.0C183.1 336.6 182.1 333.7 183.0 332.2Z" fill="#cfcfcf" stroke="#333" stroke-width="0.6"/>
<path d="M184.3 333.2C185.0 331.9 187.4 331.3 189.1 331.0C190.7 330.7 192.7 330.8 194.2 331.3C195.7 331.8 197.8 332.5 198.4 333.9C198.9 335.3 197.9 337.7 197.4 339.6C196.9 341.6 195.9 343.5 195.5 345.4C195.1 347.3 196.3 350.1 194.8 351.0C193.3 352.0 188.0 352.0 186.5 351.0C185.0 350.1 186.2 347.4 185.9 345.4C185.6 343.4 184.9 341.0 184.6 339.0C184.3 337.0 183.5 334.6 184.3 333.2Z" fill="#aaa" stroke="#222" stroke-width="0.6"/>
<path d="M185.5 334.3C186.1 333.2 188.1 332.8 189.4 332.5C190.8 332.2 192.3 332.4 193.6 332.8C194.9 333.1 196.5 333.7 197.0 334.8C197.4 336.0 196.6 338.0 196.2 339.5C195.8 341.1 195.0 342.7 194.6 344.2C194.3 345.7 195.3 348.0 194.1 348.8C192.9 349.5 188.6 349.5 187.4 348.8C186.1 348.0 187.1 345.8 186.8 344.2C186.6 342.6 186.0 340.6 185.8 339.0C185.6 337.4 184.9 335.4 185.5 334.3Z" fill="#777" stroke="#111" stroke-width="0.8"/>
<path d="M186.8 335.4C187.3 334.6 188.8 334.2 189.8 334.0C190.8 333.8 192.0 333.9 193.0 334.2C194.0 334.5 195.3 334.9 195.6 335.8C195.9 336.7 195.3 338.2 195.0 339.4C194.7 340.6 194.1 341.8 193.8 343.0C193.5 344.2 194.3 345.9 193.4 346.5C192.5 347.1 189.1 347.1 188.2 346.5C187.3 345.9 188.0 344.3 187.8 343.0C187.6 341.7 187.2 340.3 187.0 339.0C186.8 337.7 186.3 336.2 186.8 335.4Z" fill="#555" stroke="#111" stroke-width="0.9"/>
<path d="M188.1 336.5C188.4 335.9 189.4 335.6 190.2 335.5C190.9 335.4 191.7 335.4 192.4 335.6C193.1 335.8 194.0 336.2 194.2 336.8C194.5 337.4 194.0 338.4 193.8 339.3C193.6 340.1 193.1 341.0 193.0 341.8C192.8 342.6 193.3 343.9 192.7 344.3C192.0 344.7 189.7 344.7 189.0 344.3C188.4 343.9 188.9 342.7 188.8 341.8C188.6 340.9 188.3 339.9 188.2 339.0C188.1 338.1 187.7 337.1 188.1 336.5Z" fill="#777" stroke="#222" stroke-width="0.7"/>
<path d="M189.3 337.6C189.5 337.2 190.1 337.1 190.5 337.0C190.9 336.9 191.4 337.0 191.8 337.1C192.2 337.2 192.7 337.4 192.8 337.7C193.0 338.1 192.7 338.7 192.6 339.2C192.5 339.6 192.2 340.1 192.1 340.6C192.0 341.1 192.3 341.8 192.0 342.0C191.6 342.2 190.3 342.2 189.9 342.0C189.5 341.8 189.8 341.1 189.7 340.6C189.6 340.1 189.5 339.5 189.4 339.0C189.3 338.5 189.1 337.9 189.3 337.6Z" fill="#bbb" stroke="#666" stroke-width="0.5"/>
<path d="M184.5 344Q184.0 352 183.5 357.8" fill="none" stroke="#555" stroke-width="0.5"/>
<path d="M187 344Q186.75 352 186.5 357.8" fill="none" stroke="#555" stroke-width="0.5"/>
<path d="M194.5 344Q195.0 352 195.5 357.8" fill="none" stroke="#555" stroke-width="0.5"/>
<path d="M197 344Q197.75 352 198.5 357.8" fill="none" stroke="#555" stroke-width="0.5"/>
<path d="M140 337L141.9 309L179.4 306.2L193.8 325.4L174.6 335.4L140 337" fill="none" stroke="#444" stroke-width="0.9"/>
<path d="M174.6 335.4L181.3 357.8M193.8 325.4L209.2 335.4L207.3 357.8" fill="none" stroke="#444" stroke-width="0.9"/>
<path d="M162.3 266.3 V288.9" stroke="#111" stroke-width="1"/>
<path d="M158.60000000000002 287.9 L166.0 287.9 L162.3 297.7 Z" fill="#000"/>
<path d="M353.8 291.1h0M333.8 294.3h0M351.8 292.3h0M350.3 296.9h0M359.8 295.6h0M344.6 289.4h0M335.3 290.2h0M313.7 297.1h0M350.0 291.4h0M359.3 289.7h0M351.4 294.0h0M328.2 297.5h0M350.1 293.4h0M335.0 288.8h0M370.0 289.1h0M343.0 292.9h0M366.6 282.0h0M367.2 292.1h0M359.8 287.3h0M352.2 297.1h0M347.0 288.7h0M342.7 289.1h0M358.5 291.8h0M341.9 294.0h0M334.2 285.7h0M379.9 288.7h0M369.2 290.7h0M345.4 293.0h0M337.3 287.9h0M345.6 289.6h0M357.5 298.4h0M333.1 287.8h0M358.0 293.0h0M362.7 288.3h0M355.9 290.9h0M327.3 292.8h0M328.1 293.1h0M342.4 290.3h0M375.9 296.8h0M353.8 292.6h0M338.3 295.8h0M356.3 287.8h0M326.9 291.1h0M346.0 294.3h0M335.0 287.8h0M301.0 277.2h0M303.4 327.5h0M317.3 347.8h0M319.2 288.9h0M319.1 348.8h0M308.7 268.9h0M309.4 291.2h0M304.4 271.7h0M303.1 338.9h0M301.2 318.3h0M326.5 311.0h0M329.6 317.0h0M326.4 325.9h0M329.0 329.9h0M329.8 322.9h0M328.1 340.9h0M327.8 340.9h0M327.8 307.6h0M326.1 344.6h0M329.2 353.7h0M329.0 333.0h0M326.3 348.6h0M326.1 324.2h0M326.2 321.7h0M327.0 324.3h0M329.1 330.9h0M326.7 344.4h0M329.2 347.2h0M325.7 335.0h0M330.0 314.8h0M326.5 346.4h0M327.3 322.9h0M329.6 321.9h0M326.5 312.2h0M327.2 339.8h0M327.3 344.0h0M325.8 314.2h0M328.6 327.3h0M328.0 353.3h0M326.9 310.3h0M325.7 327.5h0M327.0 327.0h0M325.5 300.0h0M327.4 343.2h0M327.0 352.0h0M328.4 323.0h0M329.4 313.3h0M328.5 348.3h0M328.2 318.2h0M326.0 332.7h0M326.4 321.3h0M328.2 353.6h0M328.9 329.6h0M329.8 317.6h0M327.4 338.6h0M328.3 312.6h0M327.6 346.9h0M326.7 340.2h0M325.7 354.4h0M328.9 318.5h0M330.4 345.4h0M325.8 314.2h0M328.0 356.9h0M326.2 302.7h0M327.1 302.6h0M327.5 330.7h0M327.7 308.1h0M325.6 345.8h0M327.7 327.4h0M327.9 339.1h0M346.8 347.1h0M346.3 319.3h0M344.9 305.1h0M346.6 303.2h0M345.9 351.9h0M345.3 322.2h0M345.5 353.8h0M346.2 347.8h0M344.6 341.6h0M345.6 322.9h0M346.5 341.9h0M346.8 342.1h0M346.8 324.4h0M345.9 344.7h0M345.6 307.8h0M346.0 349.7h0M346.7 307.1h0M345.5 313.0h0M345.4 354.7h0M345.6 317.9h0M345.2 325.1h0M346.2 319.5h0M345.0 312.9h0M345.1 351.7h0M344.9 343.0h0M344.8 344.8h0M345.2 344.4h0M345.6 304.5h0M363.4 347.0h0M350.4 335.3h0M351.4 349.1h0M354.2 338.4h0M352.5 333.4h0M359.6 328.7h0M356.4 333.5h0M354.2 326.1h0M362.2 322.9h0M349.7 334.2h0M356.4 331.0h0M350.8 331.7h0M364.4 318.7h0M355.9 341.5h0M353.9 334.7h0M361.6 336.1h0M357.9 334.4h0M353.0 339.6h0M353.4 339.2h0M359.4 332.1h0M358.0 330.7h0M348.6 338.0h0M357.0 342.5h0M357.9 333.8h0M353.9 323.8h0M352.1 333.5h0M361.5 325.7h0M365.6 346.3h0M353.3 332.4h0M357.1 341.6h0M359.6 321.8h0M354.2 342.6h0M360.6 342.1h0M355.5 340.8h0M353.3 354.0h0M360.7 341.6h0M353.0 337.5h0M357.9 338.8h0M361.0 327.3h0M359.6 333.3h0M356.0 356.2h0M352.7 345.2h0M353.9 319.8h0M358.0 344.1h0M362.4 339.0h0M361.7 332.6h0M360.6 349.1h0M354.6 334.6h0M362.3 331.2h0M351.4 338.5h0M359.0 346.6h0M353.6 342.9h0M351.5 327.5h0M368.6 331.3h0M348.2 341.0h0M352.2 344.8h0M361.4 340.6h0M351.3 351.9h0M361.4 334.9h0M361.9 343.8h0M349.6 330.9h0M356.9 328.1h0M359.6 339.1h0M359.8 335.4h0M360.0 336.7h0M353.2 339.5h0M352.0 332.6h0M361.1 347.5h0M352.8 333.7h0M367.5 342.7h0M353.6 326.1h0M364.6 349.6h0M351.5 344.0h0M350.9 334.6h0M361.4 335.1h0M352.2 324.1h0M358.8 335.7h0M349.5 356.6h0M352.2 332.6h0M357.8 334.9h0M353.6 320.7h0M362.8 337.0h0M354.7 335.1h0M353.6 345.7h0M364.7 332.9h0M367.1 319.7h0M360.4 324.0h0M350.6 339.8h0M349.9 320.9h0M351.0 332.7h0M366.3 329.3h0M350.7 347.9h0M366.0 356.8h0M349.1 324.4h0M357.5 356.7h0M359.9 352.5h0M352.9 336.4h0M363.1 326.8h0M359.5 350.2h0M365.9 345.2h0M365.0 308.5h0M352.0 288.8h0M350.8 292.1h0M365.1 294.9h0M364.8 296.6h0M359.6 286.4h0M365.3 295.6h0M357.1 288.9h0M368.4 307.0h0M359.7 286.3h0M357.5 287.9h0M358.1 288.5h0M366.1 313.0h0M364.9 290.8h0M367.0 304.2h0M365.0 295.7h0M348.9 289.9h0M366.9 311.6h0M367.9 299.9h0M366.1 310.8h0M366.8 302.4h0M345.0 293.5h0M367.8 297.7h0M366.5 302.0h0M352.4 290.5h0M364.6 311.6h0M369.4 307.8h0M367.7 310.7h0M341.6 293.5h0M366.0 303.7h0M356.7 288.4h0M367.5 315.2h0M362.8 288.0h0M368.2 308.4h0M365.8 294.3h0M364.6 294.4h0M343.7 293.5h0M367.6 313.8h0M358.9 290.4h0M359.7 287.3h0M366.5 301.9h0M366.3 295.4h0M354.9 286.5h0M362.4 291.7h0M366.6 296.9h0M343.5 289.6h0M367.1 308.7h0M343.4 291.7h0M349.9 291.0h0M365.0 317.6h0M363.8 291.0h0M365.3 316.4h0M365.8 293.4h0M358.8 291.3h0M367.2 317.3h0M348.7 289.7h0M341.0 295.0h0M368.5 303.1h0M368.4 309.6h0M366.2 303.0h0" stroke="#000" stroke-width="1.1" stroke-linecap="round" fill="none" opacity="1.0"/>
<path d="M343.0 298.0C343.7 295.9 347.5 292.9 350.0 291.5C352.5 290.1 355.7 289.3 358.0 289.5C360.3 289.7 362.7 290.9 364.0 292.5C365.3 294.1 365.8 296.4 366.0 299.0C366.2 301.6 365.6 305.2 365.0 308.0C364.4 310.8 363.8 314.0 362.5 316.0C361.2 318.0 358.9 319.5 357.0 320.0C355.1 320.5 352.6 320.3 351.0 319.0C349.4 317.7 348.3 314.5 347.5 312.0C346.7 309.5 346.8 306.3 346.0 304.0C345.2 301.7 342.3 300.1 343.0 298.0Z" fill="#fff" stroke="#333" stroke-width="0.7"/>
<path d="M344.6 298.8C345.1 297.0 348.5 294.4 350.7 293.1C352.9 291.9 355.7 291.2 357.8 291.4C359.8 291.5 361.9 292.6 363.0 294.0C364.2 295.4 364.7 297.4 364.8 299.7C364.9 302.0 364.4 305.1 363.9 307.6C363.4 310.1 362.9 312.9 361.7 314.7C360.5 316.4 358.6 317.8 356.9 318.2C355.2 318.6 353.0 318.5 351.6 317.3C350.2 316.1 349.3 313.4 348.5 311.2C347.8 309.0 347.9 306.2 347.2 304.1C346.5 302.1 344.0 300.7 344.6 298.8Z" fill="#efefef" stroke="#777" stroke-width="0.5"/>
<path d="M346.1 299.7C346.6 298.1 349.5 295.8 351.4 294.7C353.3 293.7 355.7 293.1 357.5 293.2C359.3 293.3 361.1 294.3 362.1 295.5C363.1 296.7 363.5 298.5 363.6 300.4C363.7 302.4 363.3 305.1 362.8 307.3C362.4 309.4 362.0 311.8 360.9 313.4C359.9 314.9 358.2 316.0 356.8 316.4C355.3 316.8 353.4 316.7 352.2 315.6C351.0 314.6 350.2 312.2 349.5 310.3C348.9 308.4 349.0 306.0 348.4 304.2C347.8 302.5 345.6 301.3 346.1 299.7Z" fill="#e2e2e2" stroke="#666" stroke-width="0.5"/>
<path d="M352.5 297.5C353.8 296.8 356.5 296.4 358.0 297.0C359.5 297.6 360.8 299.3 361.5 301.0C362.2 302.7 362.2 305.0 362.0 307.0C361.8 309.0 361.0 311.6 360.0 313.0C359.0 314.4 357.2 315.3 356.0 315.5C354.8 315.7 353.4 315.2 352.5 314.0C351.6 312.8 350.8 310.2 350.5 308.0C350.2 305.8 350.2 302.8 350.5 301.0C350.8 299.2 351.2 298.2 352.5 297.5Z" fill="#8a8a8a" stroke="#111" stroke-width="0.9"/>
<path d="M352.9 299.9C353.8 299.4 355.8 299.1 356.9 299.5C358.0 299.9 358.9 301.2 359.4 302.4C359.9 303.6 359.9 305.3 359.8 306.7C359.6 308.2 359.0 310.0 358.3 311.0C357.6 312.1 356.3 312.7 355.4 312.8C354.5 313.0 353.6 312.7 352.9 311.8C352.3 310.9 351.7 309.0 351.5 307.4C351.2 305.9 351.2 303.7 351.5 302.4C351.7 301.1 352.0 300.4 352.9 299.9Z" fill="#a8a8a8" stroke="#333" stroke-width="0.6"/>
<path d="M353.3 302.2C353.9 301.9 355.1 301.7 355.8 301.9C356.5 302.2 357.1 303.0 357.4 303.8C357.7 304.5 357.7 305.6 357.6 306.4C357.5 307.3 357.1 308.5 356.7 309.1C356.2 309.8 355.5 310.2 354.9 310.3C354.3 310.3 353.7 310.2 353.3 309.6C352.9 309.0 352.6 307.9 352.4 306.9C352.3 305.9 352.3 304.5 352.4 303.8C352.6 303.0 352.8 302.5 353.3 302.2Z" fill="#d0d0d0" stroke="#555" stroke-width="0.5"/>
<path d="M358.5 299.5Q362.5 306 359 313" fill="none" stroke="#000" stroke-width="2.4"/>
<path d="M348 318.0Q356 321.0 363 316.0" fill="none" stroke="#888" stroke-width="0.5"/>
<path d="M348 321.5Q356 324.5 363 319.5" fill="none" stroke="#888" stroke-width="0.5"/>
<path d="M348 325.0Q356 328.0 363 323.0" fill="none" stroke="#888" stroke-width="0.5"/>
<path d="M348 328.5Q356 331.5 363 326.5" fill="none" stroke="#888" stroke-width="0.5"/>
<path d="M331 342Q333 350 330.5 357.6M344.5 342Q342.5 350 345 357.6M333.5 344Q336 351 333 357M342 344Q339.5 351 342.5 357M336 346Q337.7 352 336 357M339.5 346Q337.7 352 339.5 357" fill="none" stroke="#333" stroke-width="0.55"/>
<path d="M337.5 299.5C339.0 299.5 340.8 299.9 342.0 301.0C343.2 302.1 344.4 303.7 345.0 306.0C345.6 308.3 345.6 311.7 345.5 315.0C345.4 318.3 344.8 322.5 344.5 326.0C344.2 329.5 344.0 333.0 343.5 336.0C343.0 339.0 342.5 342.1 341.5 344.0C340.5 345.9 338.9 347.5 337.7 347.5C336.4 347.5 334.9 345.9 334.0 344.0C333.1 342.1 332.5 339.0 332.0 336.0C331.5 333.0 331.3 329.5 331.0 326.0C330.7 322.5 330.1 318.3 330.0 315.0C329.9 311.7 330.0 308.3 330.5 306.0C331.0 303.7 331.8 302.1 333.0 301.0C334.2 299.9 336.0 299.5 337.5 299.5Z" fill="#f6f6f6" stroke="#222" stroke-width="0.8"/>
<path d="M337.5 301.1C338.9 301.1 340.4 301.4 341.6 302.4C342.7 303.4 343.7 304.8 344.3 306.9C344.8 309.0 344.8 312.0 344.7 315.0C344.6 318.0 344.1 321.8 343.8 324.9C343.5 328.0 343.4 331.2 342.9 333.9C342.5 336.6 342.0 339.4 341.1 341.1C340.2 342.8 338.8 344.2 337.7 344.2C336.6 344.2 335.2 342.8 334.4 341.1C333.5 339.4 333.0 336.6 332.6 333.9C332.1 331.2 332.0 328.0 331.7 324.9C331.4 321.8 330.8 318.0 330.8 315.0C330.7 312.0 330.8 309.0 331.2 306.9C331.7 304.8 332.4 303.4 333.5 302.4C334.5 301.4 336.2 301.1 337.5 301.1Z" fill="#d0d0d0" stroke="#333" stroke-width="0.7"/>
<path d="M337.5 302.6C338.7 302.6 340.1 302.9 341.1 303.8C342.1 304.7 343.1 305.9 343.5 307.8C344.0 309.7 344.0 312.3 343.9 315.0C343.9 317.7 343.4 321.0 343.1 323.8C342.9 326.6 342.7 329.4 342.3 331.8C341.9 334.2 341.5 336.7 340.7 338.2C340.0 339.7 338.7 341.0 337.7 341.0C336.7 341.0 335.5 339.7 334.7 338.2C334.0 336.7 333.5 334.2 333.1 331.8C332.7 329.4 332.6 326.6 332.3 323.8C332.1 321.0 331.6 317.7 331.5 315.0C331.5 312.3 331.5 309.7 331.9 307.8C332.3 305.9 333.0 304.7 333.9 303.8C334.9 302.9 336.3 302.6 337.5 302.6Z" fill="#222" stroke="#000" stroke-width="1.2"/>
<path d="M337.6 305.4C338.5 305.4 339.6 305.6 340.4 306.3C341.1 307.0 341.9 308.0 342.2 309.4C342.6 310.9 342.6 312.9 342.5 315.0C342.5 317.1 342.1 319.6 341.9 321.8C341.7 324.0 341.6 326.2 341.3 328.0C341.0 329.9 340.7 331.8 340.1 333.0C339.5 334.2 338.5 335.2 337.7 335.2C336.9 335.2 336.0 334.2 335.4 333.0C334.8 331.8 334.5 329.9 334.2 328.0C333.9 326.2 333.8 324.0 333.5 321.8C333.3 319.6 333.0 317.1 332.9 315.0C332.9 312.9 332.9 310.9 333.2 309.4C333.5 308.0 334.1 307.0 334.8 306.3C335.5 305.6 336.6 305.4 337.6 305.4Z" fill="#5a5a5a" stroke="#111" stroke-width="0.8"/>
<path d="M337.6 308.0C338.3 308.0 339.1 308.2 339.6 308.7C340.2 309.2 340.7 309.9 341.0 311.0C341.2 312.0 341.2 313.5 341.2 315.0C341.2 316.5 340.9 318.4 340.8 320.0C340.6 321.5 340.5 323.1 340.3 324.5C340.1 325.8 339.8 327.2 339.4 328.1C339.0 328.9 338.3 329.6 337.7 329.6C337.1 329.6 336.5 328.9 336.0 328.1C335.6 327.2 335.4 325.8 335.1 324.5C334.9 323.1 334.8 321.5 334.7 320.0C334.5 318.4 334.3 316.5 334.2 315.0C334.2 313.5 334.2 312.0 334.5 311.0C334.7 309.9 335.1 309.2 335.6 308.7C336.1 308.2 336.9 308.0 337.6 308.0Z" fill="#888" stroke="#444" stroke-width="0.6"/>
<ellipse cx="338" cy="320" rx="1.6" ry="15" fill="#f2f2f2"/>
<ellipse cx="338" cy="320" rx="2.8" ry="18" fill="none" stroke="#bbb" stroke-width="0.6"/>
<path d="M331.5 357.6Q331.5 352.8 337.5 352.5Q343.5 352.8 343.5 357.6Z" fill="#000"/>
<path d="M325 357.6V298.1H347.4V357.6" fill="none" stroke="#444" stroke-width="0.9"/>
<path d="M335.5 266.3 V286.8" stroke="#111" stroke-width="1"/>
<path d="M332.0 285.8 L339.0 285.8 L335.5 295 Z" fill="#000"/>
<path d="M444.6 295.2h0M467.6 301.6h0M433.1 289.8h0M439.0 291.6h0M449.9 287.1h0M456.0 286.5h0M460.0 288.9h0M456.5 295.1h0M450.6 290.3h0M441.0 287.8h0M474.8 295.9h0M479.5 294.9h0M457.3 290.4h0M448.6 285.8h0M466.7 297.7h0M474.1 300.0h0M437.3 281.3h0M463.6 294.3h0M438.0 288.8h0M464.1 301.6h0M458.8 289.9h0M464.6 298.3h0M434.8 296.7h0M438.0 293.2h0M459.5 293.3h0M430.2 294.9h0M431.4 296.3h0M424.0 290.7h0M445.1 289.7h0M455.3 294.3h0M479.0 295.2h0M468.5 287.7h0M467.9 297.2h0M472.4 299.8h0M439.0 286.8h0M440.7 290.0h0M472.7 283.6h0M452.8 297.8h0M449.8 286.2h0M439.0 295.6h0M463.0 292.3h0M457.1 299.7h0M447.0 302.5h0M437.4 302.1h0M430.8 299.4h0M452.2 285.7h0M453.9 295.6h0M460.7 293.6h0M449.4 291.6h0M453.5 298.8h0M459.0 296.3h0M454.8 299.7h0M487.7 303.6h0M434.0 288.9h0M436.5 291.3h0M481.1 291.3h0M453.5 292.0h0M423.8 287.3h0M441.2 288.9h0M446.9 290.7h0M419.1 346.5h0M407.3 334.4h0M416.7 327.5h0M418.3 352.6h0M422.3 325.5h0M408.7 349.6h0M417.0 348.5h0M421.6 324.3h0M416.6 325.3h0M420.4 342.4h0M410.3 334.0h0M416.7 322.3h0M409.3 332.9h0M407.3 333.8h0M422.9 348.3h0M407.0 348.3h0M418.9 343.2h0M406.5 345.4h0M420.8 351.7h0M417.7 342.4h0M421.8 352.5h0M420.1 355.0h0M417.3 332.5h0M416.9 321.8h0M418.9 335.4h0M419.5 315.4h0M417.5 337.6h0M415.1 330.5h0M417.7 321.2h0M414.6 325.7h0M419.7 339.4h0M414.0 334.8h0M420.9 312.6h0M414.6 339.5h0M421.3 339.8h0M423.5 333.0h0M419.0 322.4h0M419.4 328.5h0M417.1 340.4h0M420.2 327.9h0M419.7 337.0h0M420.4 325.0h0M421.1 327.5h0M420.0 326.8h0M422.3 321.3h0M421.3 331.0h0M422.1 317.5h0M418.0 338.5h0M421.7 325.7h0M412.9 328.7h0M416.7 333.9h0M417.6 320.5h0M418.4 349.7h0M420.9 328.3h0M420.9 316.0h0M417.1 332.0h0M417.8 325.3h0M419.0 354.6h0M418.8 337.8h0M418.0 343.5h0M414.2 327.9h0M423.3 334.2h0M412.8 346.5h0M414.8 337.9h0M421.0 334.7h0M418.2 343.1h0M420.5 343.2h0M422.3 340.5h0M412.9 311.4h0M418.4 317.5h0M417.8 334.2h0M420.5 317.2h0M421.9 307.4h0M494.6 333.5h0M480.2 342.4h0M488.5 317.6h0M486.5 308.5h0M480.5 325.9h0M489.3 299.3h0M493.8 340.2h0M493.0 321.9h0M485.8 318.5h0M485.6 342.8h0M480.1 354.8h0M470.5 346.2h0M474.5 341.4h0M462.4 356.7h0M464.5 340.9h0M469.8 336.9h0M470.6 338.5h0M477.9 336.8h0M477.2 340.9h0M476.9 352.6h0M480.9 338.8h0M481.6 338.3h0M466.4 335.2h0M469.9 336.8h0M471.3 355.5h0M476.8 349.3h0M460.2 356.7h0M466.8 355.9h0M461.5 341.6h0M480.7 351.4h0M462.5 345.1h0M471.0 340.5h0M433.8 307.2h0M441.5 305.4h0M438.6 304.0h0M440.2 305.1h0M454.8 301.9h0M442.6 304.9h0M436.1 303.0h0M460.8 297.8h0M457.0 301.9h0M438.6 304.7h0M429.4 306.2h0M434.6 306.7h0M438.3 306.7h0M458.8 298.4h0M445.6 303.7h0M447.7 301.2h0M459.0 297.2h0M433.9 304.9h0M428.7 305.3h0M430.2 306.9h0M461.7 298.3h0M434.7 305.9h0M441.4 306.4h0M440.0 302.1h0M453.0 302.8h0M440.4 304.2h0M442.1 305.1h0M458.4 298.2h0M432.2 305.3h0M426.1 305.2h0M438.0 306.0h0M427.1 305.6h0M443.1 302.8h0M441.4 304.3h0M459.8 297.3h0M442.2 303.2h0M455.0 301.6h0M455.0 303.0h0M428.6 306.8h0M451.2 302.7h0" stroke="#000" stroke-width="1.1" stroke-linecap="round" fill="none" opacity="1.0"/>
<path d="M456.4 327.0C456.4 327.8 456.3 328.5 456.3 329.3C456.3 330.2 456.2 331.0 456.2 331.9C456.1 332.8 456.1 333.8 456.0 335.0C456.0 336.2 456.0 337.5 455.8 339.3C455.7 341.1 455.8 343.8 455.0 345.8C454.3 347.8 453.1 350.1 451.6 351.4C450.1 352.6 447.9 352.8 446.0 353.1C444.1 353.4 442.0 353.4 440.0 353.4C437.9 353.4 435.4 353.7 433.5 352.9C431.7 352.0 429.8 350.3 429.0 348.4C428.1 346.4 428.4 343.2 428.4 341.0C428.4 338.9 428.9 336.9 428.9 335.2C428.8 333.6 428.3 332.5 428.1 331.1C428.0 329.7 427.7 328.3 427.8 327.0C427.9 325.7 428.4 324.3 428.8 323.1C429.1 321.8 429.5 320.6 430.0 319.3C430.4 318.0 430.6 316.4 431.4 315.3C432.2 314.2 433.5 313.5 434.6 312.7C435.8 312.0 436.9 311.2 438.2 310.7C439.4 310.3 440.8 310.2 442.1 309.9C443.4 309.6 444.6 309.3 446.0 308.9C447.4 308.6 448.9 307.7 450.4 307.7C451.9 307.6 453.8 307.7 454.8 308.8C455.8 309.8 456.0 312.4 456.3 314.1C456.6 315.7 456.5 317.3 456.6 318.6C456.6 319.9 456.5 320.9 456.5 321.9C456.5 323.0 456.5 323.8 456.4 324.6C456.4 325.5 456.4 326.2 456.4 327.0Z" fill="#fff" stroke="#555" stroke-width="0.6"/>
<path d="M455.2 326.9C455.2 327.7 455.3 328.5 455.3 329.1C455.3 329.8 455.6 329.9 455.4 330.8C455.3 331.7 454.6 333.4 454.4 334.5C454.3 335.6 454.4 336.0 454.4 337.5C454.4 338.9 455.0 341.4 454.4 343.1C453.9 344.8 452.6 346.8 451.2 347.7C449.8 348.7 447.9 348.4 446.2 348.8C444.5 349.1 442.9 349.8 441.1 349.9C439.3 349.9 437.1 350.1 435.5 349.2C434.0 348.3 432.5 346.3 431.8 344.6C431.1 342.9 431.4 340.9 431.3 339.1C431.1 337.2 431.0 334.9 431.0 333.5C430.9 332.0 431.0 331.4 431.0 330.3C430.9 329.3 430.5 328.3 430.5 327.3C430.6 326.2 431.0 325.0 431.3 323.8C431.5 322.7 431.6 321.5 432.0 320.4C432.3 319.2 432.5 318.2 433.3 317.1C434.1 316.0 435.7 314.6 436.6 313.8C437.5 313.0 437.7 312.5 438.8 312.2C439.9 311.8 442.0 311.9 443.2 311.6C444.4 311.4 445.1 311.0 446.2 310.7C447.3 310.4 448.7 309.7 449.9 309.8C451.1 309.8 452.6 310.0 453.5 311.0C454.3 312.0 454.8 314.4 455.2 315.8C455.5 317.3 455.5 318.6 455.7 319.7C455.8 320.9 455.9 322.0 455.9 322.7C456.0 323.5 455.9 323.5 455.8 324.2C455.6 324.9 455.3 326.0 455.2 326.9Z" fill="#fafafa" stroke="#666" stroke-width="0.5"/>
<path d="M455.1 327.2C455.1 327.8 455.1 328.2 455.0 328.7C455.0 329.2 454.7 329.6 454.6 330.4C454.5 331.1 454.6 332.3 454.4 333.2C454.2 334.1 453.5 334.4 453.3 335.7C453.1 337.1 453.8 339.7 453.1 341.2C452.5 342.7 450.8 344.1 449.6 344.7C448.4 345.4 447.3 344.9 446.0 345.1C444.7 345.3 442.9 346.1 441.6 346.0C440.2 345.9 439.0 345.4 437.7 344.6C436.5 343.9 434.8 342.8 434.1 341.5C433.4 340.2 433.6 338.1 433.6 336.8C433.5 335.4 434.0 334.5 433.9 333.4C433.7 332.3 433.1 331.5 432.8 330.3C432.5 329.1 432.2 327.3 432.3 326.1C432.4 324.9 433.1 323.9 433.3 323.0C433.5 322.1 433.4 321.5 433.7 320.6C434.1 319.6 434.8 318.1 435.4 317.3C435.9 316.6 436.3 316.6 437.1 316.2C437.8 315.7 438.9 315.2 440.0 314.7C441.1 314.3 442.6 313.6 443.7 313.3C444.7 313.0 445.1 313.0 446.1 312.8C447.0 312.6 448.4 312.1 449.5 312.2C450.6 312.2 451.8 312.3 452.6 313.1C453.4 313.8 454.1 315.4 454.4 316.6C454.7 317.8 454.3 319.2 454.3 320.1C454.2 321.0 454.1 321.4 454.2 322.2C454.4 322.9 455.1 323.8 455.2 324.6C455.4 325.4 455.1 326.5 455.1 327.2Z" fill="#f3f3f3" stroke="#666" stroke-width="0.5"/>
<path d="M453.8 325.8C453.7 326.4 453.7 327.6 453.5 328.3C453.4 329.0 452.9 329.7 452.8 330.2C452.8 330.8 453.2 330.9 453.2 331.6C453.2 332.4 452.9 333.6 452.7 334.7C452.5 335.8 452.4 336.9 451.9 338.1C451.4 339.2 450.7 340.9 449.7 341.5C448.6 342.1 446.7 341.4 445.6 341.6C444.4 341.8 444.0 342.7 442.8 342.8C441.7 342.8 439.7 342.3 438.7 341.7C437.6 341.0 436.9 340.1 436.3 339.0C435.8 337.8 435.6 336.1 435.4 334.9C435.2 333.7 435.4 332.8 435.3 331.8C435.2 330.8 434.7 329.9 434.7 328.9C434.7 327.9 435.0 326.6 435.1 325.8C435.2 325.0 435.2 324.9 435.3 324.1C435.4 323.3 435.5 321.9 435.8 321.0C436.1 320.1 436.9 319.2 437.4 318.5C437.9 317.9 437.9 317.6 438.6 317.0C439.3 316.5 440.7 315.7 441.5 315.3C442.3 315.0 442.6 315.1 443.5 315.0C444.3 314.8 445.6 314.7 446.6 314.5C447.5 314.3 448.5 313.6 449.3 313.7C450.1 313.7 450.7 314.3 451.4 315.0C452.0 315.7 453.0 316.9 453.2 317.7C453.5 318.5 452.9 319.2 453.0 320.0C453.0 320.7 453.4 321.4 453.6 322.3C453.8 323.1 454.1 324.4 454.1 325.0C454.1 325.6 453.9 325.3 453.8 325.8Z" fill="#ececec" stroke="#666" stroke-width="0.5"/>
<path d="M452.4 325.9C452.5 326.4 453.0 327.4 453.1 328.0C453.1 328.5 453.1 328.7 452.8 329.2C452.6 329.7 451.8 330.3 451.6 330.9C451.5 331.6 452.1 332.2 451.9 333.0C451.7 333.8 451.0 335.0 450.5 335.9C450.0 336.7 449.4 337.7 448.7 338.1C448.1 338.6 447.7 338.3 446.7 338.5C445.7 338.8 443.8 339.4 442.8 339.5C441.8 339.6 441.7 339.5 440.9 339.1C440.2 338.7 438.7 338.1 438.2 337.1C437.7 336.0 438.2 334.0 438.1 333.0C438.0 332.0 437.9 331.8 437.7 331.0C437.6 330.3 437.4 329.3 437.2 328.4C437.0 327.6 436.6 326.8 436.5 326.0C436.5 325.2 436.6 324.2 436.9 323.5C437.1 322.8 437.6 322.4 437.9 321.7C438.3 321.0 438.6 319.9 439.1 319.4C439.5 318.9 440.2 318.9 440.8 318.7C441.4 318.4 442.0 318.1 442.6 317.8C443.3 317.5 444.1 317.1 444.6 316.9C445.1 316.7 445.0 316.8 445.6 316.6C446.2 316.4 447.2 315.7 448.0 315.7C448.9 315.7 450.2 316.0 450.8 316.6C451.4 317.3 451.3 318.7 451.6 319.5C451.9 320.2 452.3 320.2 452.4 320.9C452.5 321.5 452.2 322.7 452.3 323.4C452.3 324.0 452.7 324.5 452.7 324.9C452.8 325.4 452.4 325.4 452.4 325.9Z" fill="#e6e6e6" stroke="#666" stroke-width="0.5"/>
<path d="M451.7 325.6C451.7 326.2 451.9 327.2 451.8 327.7C451.7 328.3 451.1 328.6 451.1 329.1C451.1 329.6 451.6 330.2 451.6 330.5C451.6 330.9 451.2 330.6 451.0 331.2C450.7 331.9 450.5 333.6 450.0 334.3C449.4 335.0 448.4 334.9 447.8 335.2C447.1 335.5 446.6 335.9 446.0 336.1C445.3 336.2 444.6 336.2 444.0 336.0C443.3 335.8 442.9 335.4 442.2 335.0C441.4 334.6 440.1 334.3 439.6 333.6C439.1 333.0 439.0 331.8 439.1 331.2C439.1 330.6 439.9 330.6 439.8 330.0C439.7 329.4 438.6 328.5 438.4 327.8C438.1 327.1 438.4 326.3 438.5 325.8C438.6 325.2 438.6 325.0 438.8 324.4C439.0 323.8 439.5 323.0 439.6 322.4C439.8 321.8 439.6 321.1 439.9 320.7C440.1 320.3 440.5 320.1 441.1 319.8C441.6 319.4 442.7 318.9 443.3 318.6C443.8 318.3 443.6 318.0 444.1 317.9C444.6 317.8 445.4 318.2 446.1 318.1C446.8 318.1 447.7 317.6 448.4 317.6C449.0 317.7 449.7 318.1 450.1 318.4C450.5 318.8 450.4 319.3 450.6 319.9C450.8 320.5 451.1 321.4 451.2 322.0C451.4 322.6 451.4 323.1 451.5 323.5C451.6 323.8 451.7 324.0 451.7 324.3C451.8 324.7 451.7 325.1 451.7 325.6Z" fill="#e0e0e0" stroke="#666" stroke-width="0.5"/>
<path d="M450.9 326.0C450.7 326.4 450.3 326.4 450.2 326.8C450.2 327.2 450.4 328.1 450.4 328.5C450.5 328.9 450.7 328.6 450.7 329.0C450.6 329.4 450.5 330.3 450.1 330.7C449.8 331.2 449.2 331.4 448.7 331.8C448.3 332.2 447.7 333.0 447.4 333.3C447.0 333.7 446.9 333.8 446.5 333.8C446.1 333.8 445.6 333.6 445.0 333.5C444.5 333.4 444.0 333.3 443.3 333.0C442.7 332.8 441.8 332.5 441.3 332.0C440.9 331.4 440.6 330.4 440.6 329.7C440.6 329.1 441.4 328.5 441.3 328.0C441.2 327.5 440.2 327.2 440.1 326.7C440.1 326.3 441.0 325.7 441.0 325.4C441.0 325.1 440.2 325.1 440.2 324.8C440.1 324.5 440.4 324.0 440.7 323.5C441.0 323.1 441.5 322.7 441.9 322.2C442.3 321.8 442.9 321.4 443.2 321.0C443.6 320.5 443.8 319.8 444.2 319.6C444.5 319.4 445.0 319.9 445.4 319.8C445.8 319.7 446.1 319.1 446.6 319.1C447.0 319.1 447.6 319.9 447.9 320.0C448.3 320.0 448.1 319.4 448.4 319.6C448.7 319.9 449.6 321.1 449.8 321.5C450.1 321.9 449.9 321.6 449.9 322.0C450.0 322.3 450.1 323.2 450.3 323.7C450.5 324.1 451.0 324.1 451.1 324.5C451.2 324.9 451.0 325.7 450.9 326.0Z" fill="#e4e4e4" stroke="#666" stroke-width="0.5"/>
<path d="M449.6 325.5C449.6 325.7 449.7 326.1 449.6 326.4C449.5 326.7 449.0 327.0 449.0 327.3C449.1 327.6 449.8 327.8 449.8 328.0C449.8 328.3 449.3 328.2 449.1 328.6C448.9 329.0 448.7 329.9 448.5 330.2C448.2 330.6 448.0 330.5 447.6 330.7C447.3 330.8 446.6 331.1 446.3 331.1C446.0 331.0 446.2 330.5 445.7 330.4C445.3 330.4 444.0 331.0 443.7 330.9C443.3 330.8 443.9 330.2 443.7 329.8C443.6 329.5 443.0 329.4 442.7 329.0C442.5 328.5 442.3 327.7 442.2 327.3C442.0 327.0 442.0 327.1 441.9 326.7C441.9 326.4 441.9 325.5 442.0 325.3C442.1 325.0 442.5 325.4 442.6 325.1C442.6 324.9 442.3 324.2 442.4 323.9C442.5 323.5 442.7 323.5 443.0 323.1C443.2 322.8 443.6 322.1 443.9 321.7C444.1 321.4 444.0 321.0 444.2 320.9C444.5 320.8 445.1 321.1 445.4 321.1C445.7 321.0 445.7 320.8 446.0 320.9C446.2 320.9 446.8 321.2 447.1 321.3C447.4 321.5 447.5 321.7 447.8 321.9C448.1 322.1 448.6 322.0 448.8 322.3C449.1 322.5 449.0 323.1 449.2 323.4C449.4 323.7 449.9 323.7 450.0 323.9C450.0 324.2 449.8 324.7 449.7 325.0C449.7 325.3 449.7 325.2 449.6 325.5Z" fill="#ececec" stroke="#666" stroke-width="0.5"/>
<path d="M449.2 325.3C449.3 325.5 449.1 326.4 449.0 326.5C448.9 326.7 448.7 326.1 448.5 326.2C448.3 326.4 448.0 327.1 448.0 327.4C447.9 327.7 448.2 328.1 448.2 328.2C448.2 328.3 448.3 327.8 448.0 327.9C447.8 327.9 447.0 328.1 446.7 328.3C446.3 328.4 446.1 328.8 446.0 328.9C445.9 329.1 446.4 329.1 446.2 329.1C446.0 329.1 445.1 329.1 444.8 328.9C444.5 328.7 444.3 328.3 444.3 327.9C444.2 327.6 444.6 327.0 444.5 326.9C444.3 326.7 443.6 327.3 443.5 327.1C443.3 326.9 443.5 326.1 443.6 325.9C443.6 325.6 443.9 325.8 443.8 325.6C443.8 325.4 443.2 324.8 443.2 324.5C443.3 324.3 443.8 324.3 444.0 324.1C444.1 324.0 443.7 323.8 444.0 323.6C444.2 323.4 445.1 323.2 445.3 322.9C445.5 322.7 445.3 322.3 445.3 322.3C445.3 322.2 445.4 322.6 445.5 322.7C445.7 322.8 445.6 323.0 445.9 322.9C446.3 322.8 447.1 322.0 447.5 322.0C447.9 321.9 448.0 322.3 448.1 322.5C448.3 322.7 448.3 323.2 448.3 323.4C448.3 323.7 448.0 323.7 448.1 323.9C448.1 324.1 448.7 324.4 448.7 324.6C448.8 324.8 448.3 325.0 448.4 325.1C448.5 325.2 449.1 325.0 449.2 325.3Z" fill="#f4f4f4" stroke="#666" stroke-width="0.5"/>
<path d="M448.2 325.4C448.2 325.4 447.8 325.0 447.6 325.0C447.5 325.1 447.5 325.4 447.5 325.6C447.5 325.8 447.7 326.2 447.7 326.3C447.6 326.3 447.4 325.9 447.3 325.9C447.2 326.0 447.3 326.5 447.2 326.7C447.0 326.9 446.5 327.2 446.4 327.1C446.3 327.1 446.6 326.4 446.6 326.3C446.7 326.1 446.8 326.2 446.7 326.3C446.5 326.4 445.8 326.8 445.7 326.9C445.5 326.9 445.7 326.6 445.7 326.5C445.7 326.3 445.7 326.2 445.6 326.1C445.5 325.9 445.2 325.5 445.1 325.4C444.9 325.4 444.6 325.8 444.7 325.8C444.8 325.7 445.4 325.4 445.5 325.3C445.6 325.1 445.6 324.8 445.5 324.7C445.4 324.6 445.0 324.6 445.0 324.4C445.1 324.3 445.8 323.9 445.9 323.7C446.0 323.6 445.6 323.8 445.7 323.8C445.7 323.8 446.2 323.7 446.2 323.7C446.3 323.7 445.9 323.6 446.0 323.7C446.0 323.7 446.4 324.0 446.5 324.1C446.6 324.2 446.6 324.3 446.6 324.2C446.6 324.1 446.5 323.7 446.5 323.6C446.6 323.5 446.5 323.5 446.7 323.6C446.9 323.8 447.7 324.5 447.7 324.6C447.8 324.7 447.2 324.1 447.1 324.2C447.1 324.3 447.3 325.0 447.5 325.2C447.7 325.4 448.2 325.4 448.2 325.4Z" fill="#fff" stroke="#666" stroke-width="0.5"/>
<path d="M425 357.6Q425 353 432 352.5H449Q456.5 353 456.5 357.6Z" fill="#333"/>
<path d="M426.5 355H455.5M427 356.6H455" fill="none" stroke="#888" stroke-width="0.5"/>
<path d="M479.9 311.0C479.9 311.8 479.8 312.5 479.7 313.3C479.7 314.1 479.7 314.9 479.5 315.7C479.4 316.5 479.1 317.3 478.9 318.2C478.6 319.2 478.4 320.1 478.0 321.3C477.7 322.5 477.4 323.8 476.8 325.6C476.3 327.4 475.8 330.5 474.7 332.4C473.5 334.2 471.4 336.4 469.8 336.5C468.2 336.6 466.0 334.5 464.8 332.8C463.6 331.1 463.1 328.0 462.5 326.2C461.9 324.3 461.6 323.0 461.2 321.7C460.9 320.4 460.7 319.4 460.5 318.4C460.3 317.4 460.1 316.6 460.0 315.7C459.8 314.9 459.8 314.1 459.8 313.3C459.7 312.5 459.7 311.8 459.7 311.0C459.7 310.2 459.7 309.5 459.7 308.7C459.6 307.9 459.5 307.0 459.6 306.1C459.7 305.2 460.0 304.4 460.3 303.4C460.5 302.4 460.7 301.2 461.1 300.1C461.5 299.0 462.1 297.7 462.9 296.7C463.7 295.6 464.7 294.4 465.9 293.8C467.0 293.1 468.5 292.9 469.8 292.9C471.1 292.9 472.6 293.1 473.7 293.7C474.9 294.3 476.0 295.4 476.9 296.3C477.8 297.3 478.6 298.3 479.1 299.4C479.5 300.5 479.5 302.0 479.7 303.1C479.9 304.2 480.1 305.1 480.1 306.0C480.2 306.9 480.2 307.8 480.2 308.6C480.1 309.5 480.0 310.2 479.9 311.0Z" fill="#f4f4f4" stroke="#333" stroke-width="0.7"/>
<path d="M478.8 311.0C478.8 311.7 478.8 312.4 478.8 313.1C478.7 313.9 478.7 314.6 478.5 315.3C478.3 316.0 477.7 316.5 477.5 317.3C477.3 318.1 477.5 319.0 477.3 320.1C477.0 321.1 476.7 321.9 476.1 323.4C475.6 325.0 475.0 327.7 474.0 329.3C472.9 330.9 471.3 332.9 469.8 333.0C468.4 333.0 466.3 331.1 465.2 329.6C464.1 328.2 463.8 326.0 463.3 324.4C462.9 322.8 462.7 321.3 462.5 320.1C462.2 318.9 462.0 318.1 461.8 317.2C461.6 316.3 461.4 315.5 461.2 314.9C461.0 314.2 460.7 313.8 460.6 313.1C460.6 312.4 460.6 311.4 460.7 310.7C460.8 310.0 461.1 309.6 461.1 309.0C461.1 308.3 460.7 307.5 460.7 306.7C460.8 305.9 461.2 305.1 461.5 304.2C461.7 303.3 461.6 302.4 462.0 301.5C462.4 300.5 463.2 299.5 463.9 298.5C464.7 297.6 465.7 296.3 466.6 295.6C467.6 295.0 468.7 294.8 469.7 294.8C470.8 294.7 472.0 294.9 473.0 295.5C474.0 296.0 475.1 297.1 475.8 298.0C476.6 298.9 477.2 299.8 477.6 300.7C478.0 301.7 478.1 302.8 478.3 303.7C478.6 304.7 479.0 305.6 479.1 306.4C479.2 307.2 478.9 307.9 478.8 308.7C478.8 309.5 478.8 310.2 478.8 311.0Z" fill="#c4c4c4" stroke="#222" stroke-width="0.8"/>
<path d="M477.8 310.4C477.8 311.0 477.8 311.5 477.8 312.2C477.7 312.9 477.6 313.9 477.4 314.6C477.2 315.3 476.7 315.9 476.4 316.5C476.2 317.2 476.2 317.9 475.9 318.7C475.7 319.6 475.2 320.2 474.8 321.6C474.3 322.9 474.1 325.6 473.2 326.9C472.3 328.3 470.8 329.7 469.6 329.8C468.5 329.8 467.3 328.5 466.4 327.3C465.5 326.0 464.8 323.5 464.3 322.1C463.8 320.8 463.6 320.1 463.4 319.2C463.1 318.2 462.6 317.4 462.5 316.6C462.3 315.9 462.5 315.3 462.4 314.6C462.3 314.0 461.9 313.5 461.8 312.8C461.7 312.1 461.7 311.2 461.8 310.6C461.8 310.0 462.0 309.7 462.1 309.1C462.1 308.5 461.8 307.8 461.9 307.1C462.0 306.3 462.4 305.4 462.6 304.6C462.8 303.8 462.8 302.9 463.1 302.1C463.4 301.2 463.7 300.2 464.4 299.5C465.0 298.8 466.1 298.4 467.0 297.9C467.9 297.4 468.6 296.7 469.6 296.7C470.6 296.6 472.1 297.2 473.0 297.6C473.9 298.0 474.4 298.6 475.0 299.3C475.7 300.0 476.4 301.1 476.8 301.9C477.2 302.8 477.2 303.6 477.3 304.5C477.4 305.3 477.4 306.3 477.4 307.0C477.5 307.7 477.4 308.2 477.5 308.8C477.5 309.4 477.7 309.8 477.8 310.4Z" fill="#7a7a7a" stroke="#111" stroke-width="1.0"/>
<path d="M476.8 310.3C476.7 310.9 476.6 311.8 476.6 312.4C476.5 313.0 476.5 313.4 476.3 314.0C476.1 314.5 475.8 314.8 475.5 315.5C475.3 316.1 475.1 316.9 474.9 317.7C474.7 318.5 474.4 319.0 474.1 320.1C473.8 321.2 473.8 323.2 473.1 324.3C472.4 325.4 471.2 326.5 470.1 326.5C469.0 326.5 467.5 325.5 466.7 324.5C465.9 323.5 465.6 321.5 465.2 320.3C464.8 319.1 464.5 318.2 464.2 317.5C464.0 316.8 463.8 316.5 463.7 315.9C463.5 315.3 463.7 314.5 463.6 313.9C463.5 313.2 463.2 312.6 463.1 312.0C463.0 311.4 462.8 310.9 462.8 310.4C462.8 309.9 463.2 309.6 463.2 309.1C463.3 308.6 462.9 307.9 463.0 307.3C463.1 306.7 463.5 306.1 463.7 305.4C464.0 304.8 464.0 304.1 464.3 303.4C464.6 302.7 464.9 301.9 465.3 301.2C465.8 300.5 466.4 299.7 467.2 299.3C468.0 298.9 469.1 298.8 470.0 298.9C470.8 298.9 471.4 299.2 472.2 299.6C472.9 299.9 473.8 300.4 474.4 300.9C474.9 301.5 475.1 302.1 475.4 302.8C475.7 303.6 475.9 304.5 476.1 305.3C476.3 306.0 476.5 306.7 476.6 307.3C476.7 307.9 476.7 308.5 476.8 309.0C476.8 309.6 476.8 309.7 476.8 310.3Z" fill="#5a5a5a" stroke="#111" stroke-width="1.0"/>
<path d="M475.2 310.4C475.3 310.9 475.4 311.4 475.4 311.9C475.3 312.3 475.0 312.8 475.0 313.2C474.9 313.7 475.0 314.1 474.9 314.6C474.8 315.1 474.6 315.7 474.4 316.3C474.1 316.9 473.8 317.3 473.4 318.1C473.0 319.0 472.5 320.5 472.0 321.4C471.4 322.2 470.8 323.0 470.1 323.0C469.3 323.0 468.1 322.3 467.5 321.5C466.9 320.7 466.6 319.0 466.3 318.1C465.9 317.3 465.8 316.9 465.5 316.3C465.3 315.7 465.1 315.0 465.0 314.5C464.8 314.0 464.7 313.7 464.6 313.2C464.5 312.8 464.5 312.3 464.4 311.8C464.3 311.3 464.0 310.6 464.0 310.1C464.0 309.7 464.2 309.5 464.3 309.1C464.3 308.6 464.1 308.2 464.2 307.6C464.3 307.1 464.7 306.3 464.8 305.8C465.0 305.2 465.1 304.7 465.3 304.2C465.5 303.6 465.6 303.0 466.0 302.5C466.4 301.9 467.1 301.4 467.7 301.1C468.3 300.8 468.9 300.6 469.6 300.6C470.3 300.6 471.1 300.9 471.7 301.2C472.4 301.5 473.0 302.1 473.4 302.6C473.9 303.1 474.2 303.7 474.4 304.3C474.6 304.8 474.5 305.3 474.7 305.9C474.8 306.4 475.1 306.9 475.2 307.4C475.3 308.0 475.2 308.6 475.2 309.1C475.2 309.6 475.2 310.0 475.2 310.4Z" fill="#6a6a6a" stroke="#222" stroke-width="0.8"/>
<path d="M474.1 309.8C474.2 310.1 474.2 310.6 474.2 311.0C474.2 311.4 474.1 311.8 474.0 312.2C473.9 312.7 473.8 313.3 473.7 313.7C473.6 314.1 473.5 314.2 473.3 314.7C473.2 315.1 473.0 315.7 472.7 316.3C472.4 316.9 472.0 317.7 471.5 318.3C471.0 318.9 470.4 319.8 469.9 319.9C469.3 320.0 468.7 319.5 468.2 318.9C467.8 318.3 467.3 317.1 467.0 316.3C466.8 315.6 466.8 315.0 466.6 314.5C466.4 314.1 465.8 314.0 465.7 313.6C465.5 313.2 465.7 312.5 465.7 312.1C465.6 311.8 465.6 311.8 465.5 311.5C465.5 311.1 465.4 310.5 465.3 310.1C465.3 309.7 465.2 309.3 465.3 308.9C465.3 308.5 465.6 308.1 465.8 307.8C465.9 307.4 466.0 307.3 466.1 306.9C466.2 306.5 466.1 305.7 466.4 305.2C466.6 304.7 467.1 304.5 467.4 304.1C467.7 303.7 467.8 303.2 468.2 302.9C468.7 302.7 469.6 302.7 470.1 302.7C470.6 302.7 470.8 302.8 471.2 303.0C471.6 303.2 471.9 303.7 472.3 304.0C472.7 304.4 473.2 304.5 473.4 305.0C473.7 305.5 474.0 306.3 474.0 306.8C474.1 307.2 473.8 307.4 473.9 307.8C473.9 308.2 474.1 308.9 474.1 309.3C474.2 309.6 474.1 309.6 474.1 309.8Z" fill="#888" stroke="#333" stroke-width="0.7"/>
<path d="M473.4 309.8C473.4 310.0 473.0 310.3 473.0 310.6C473.0 310.9 473.3 311.2 473.3 311.5C473.2 311.9 472.9 312.2 472.8 312.5C472.6 312.9 472.5 313.2 472.4 313.5C472.3 313.8 472.2 313.9 472.0 314.3C471.8 314.8 471.6 315.6 471.3 316.0C470.9 316.5 470.3 316.9 469.8 317.0C469.3 317.0 468.7 316.6 468.3 316.2C468.0 315.9 467.9 315.1 467.7 314.6C467.5 314.2 467.5 314.0 467.4 313.6C467.2 313.2 466.7 312.7 466.6 312.4C466.5 312.1 466.6 312.2 466.6 311.9C466.6 311.7 466.8 311.1 466.7 310.8C466.6 310.5 466.2 310.4 466.1 310.1C466.1 309.8 466.3 309.4 466.4 309.1C466.5 308.8 466.6 308.5 466.6 308.2C466.7 307.9 466.7 307.8 466.8 307.5C466.9 307.1 466.9 306.6 467.1 306.2C467.3 305.8 467.8 305.4 468.0 305.1C468.3 304.9 468.3 304.9 468.6 304.8C468.8 304.7 469.1 304.6 469.5 304.5C469.9 304.5 470.7 304.4 471.0 304.5C471.4 304.7 471.4 305.2 471.7 305.4C472.0 305.6 472.6 305.6 472.8 305.9C473.0 306.2 472.8 306.8 472.8 307.2C472.9 307.6 473.1 307.7 473.1 308.0C473.1 308.3 473.0 308.8 473.0 309.1C473.0 309.4 473.4 309.5 473.4 309.8Z" fill="#999" stroke="#333" stroke-width="0.6"/>
<path d="M472.5 309.5C472.4 309.7 472.1 310.3 472.0 310.6C472.0 310.8 472.3 310.9 472.3 311.1C472.2 311.3 471.7 311.5 471.6 311.8C471.5 312.0 471.9 312.5 471.9 312.6C471.8 312.8 471.5 312.6 471.3 312.8C471.2 313.0 471.1 313.5 470.9 313.9C470.7 314.2 470.2 314.9 469.9 314.9C469.6 314.9 469.3 314.2 469.0 313.9C468.7 313.6 468.4 313.6 468.2 313.4C468.0 313.1 467.9 312.8 467.8 312.4C467.7 312.1 467.7 311.8 467.6 311.5C467.6 311.2 467.6 311.0 467.6 310.8C467.5 310.6 467.2 310.5 467.1 310.3C467.1 310.1 467.0 309.6 467.1 309.5C467.1 309.3 467.3 309.4 467.4 309.2C467.5 309.0 467.6 308.4 467.7 308.2C467.7 307.9 467.6 307.8 467.6 307.6C467.7 307.4 467.8 307.3 468.0 307.0C468.2 306.8 468.5 306.5 468.7 306.3C468.8 306.2 468.6 306.1 468.8 306.0C468.9 305.9 469.3 305.8 469.6 305.8C469.9 305.9 470.3 306.1 470.6 306.2C470.8 306.3 471.1 306.3 471.2 306.4C471.4 306.6 471.5 306.8 471.6 307.0C471.7 307.2 471.7 307.6 471.8 307.8C471.9 308.0 472.1 308.0 472.2 308.2C472.2 308.3 472.1 308.8 472.1 309.0C472.1 309.2 472.5 309.2 472.5 309.5Z" fill="#aaa" stroke="#444" stroke-width="0.6"/>
<path d="M471.6 309.3C471.6 309.5 471.6 309.9 471.5 310.1C471.5 310.3 471.2 310.4 471.1 310.5C471.0 310.6 470.9 310.5 470.9 310.6C470.9 310.7 471.0 310.9 471.0 311.1C471.0 311.3 471.0 311.5 470.9 311.7C470.8 311.9 470.5 312.3 470.2 312.5C470.0 312.6 469.7 312.8 469.5 312.7C469.3 312.7 469.0 312.2 469.0 312.1C468.9 312.0 469.2 312.0 469.2 311.9C469.1 311.7 468.5 311.2 468.5 311.1C468.4 310.9 468.7 311.1 468.7 311.0C468.7 310.8 468.5 310.4 468.5 310.2C468.4 310.0 468.3 310.0 468.3 309.9C468.2 309.8 468.0 309.6 468.0 309.4C468.0 309.3 468.2 309.1 468.2 309.0C468.3 308.8 468.1 308.5 468.2 308.4C468.2 308.3 468.5 308.4 468.6 308.3C468.7 308.1 468.7 307.8 468.8 307.7C468.9 307.5 469.0 307.5 469.1 307.3C469.2 307.2 469.2 307.2 469.4 307.1C469.5 307.0 469.8 306.9 469.9 306.9C470.1 306.8 469.9 306.7 470.0 306.8C470.1 306.8 470.3 306.9 470.5 307.0C470.7 307.2 471.1 307.5 471.3 307.7C471.4 307.8 471.4 307.7 471.4 307.8C471.4 308.0 471.3 308.6 471.3 308.8C471.4 309.0 471.5 308.9 471.5 309.0C471.5 309.1 471.6 309.2 471.6 309.3Z" fill="#bbb" stroke="#555" stroke-width="0.5"/>
<path d="M470.7 309.1C470.7 309.2 470.5 309.3 470.5 309.4C470.5 309.5 470.5 309.7 470.6 309.8C470.6 309.9 470.8 309.8 470.8 309.9C470.7 310.0 470.4 310.1 470.3 310.2C470.2 310.3 470.1 310.3 470.1 310.4C470.0 310.5 470.0 310.6 469.9 310.8C469.8 310.9 469.6 311.1 469.5 311.2C469.4 311.2 469.5 311.1 469.4 311.1C469.4 311.0 469.5 310.7 469.4 310.7C469.4 310.6 469.2 310.7 469.1 310.6C469.0 310.5 468.9 310.3 468.8 310.2C468.8 310.1 468.8 310.1 468.8 310.0C468.9 309.8 469.0 309.5 469.0 309.4C469.0 309.2 468.7 309.1 468.7 309.0C468.6 308.9 468.7 308.8 468.7 308.8C468.8 308.8 468.8 309.1 468.9 309.1C468.9 309.0 468.9 308.6 468.9 308.4C469.0 308.3 469.1 308.2 469.1 308.2C469.2 308.1 469.4 308.3 469.5 308.2C469.5 308.2 469.3 307.8 469.3 307.8C469.4 307.8 469.8 308.2 469.9 308.2C470.0 308.2 470.0 308.0 470.1 307.9C470.2 307.9 470.5 307.7 470.6 307.8C470.6 307.9 470.2 308.4 470.2 308.5C470.2 308.5 470.4 308.2 470.5 308.3C470.6 308.4 470.7 309.0 470.7 309.1C470.7 309.2 470.7 309.0 470.7 309.0C470.7 309.0 470.7 309.0 470.7 309.1Z" fill="#d8d8d8" stroke="#666" stroke-width="0.5"/>
<path d="M469.9 308.9C470.0 309.0 470.3 309.2 470.4 309.2C470.5 309.3 470.5 309.1 470.4 309.1C470.3 309.1 470.0 309.2 469.9 309.2C469.9 309.2 470.0 309.2 470.0 309.3C470.0 309.3 469.9 309.5 469.8 309.6C469.8 309.6 469.8 309.3 469.8 309.4C469.7 309.5 469.6 310.0 469.5 310.0C469.5 310.0 469.5 309.8 469.5 309.7C469.5 309.6 469.6 309.7 469.6 309.6C469.5 309.6 469.4 309.5 469.3 309.4C469.3 309.4 469.2 309.5 469.3 309.5C469.3 309.5 469.6 309.5 469.7 309.4C469.8 309.4 469.7 309.1 469.6 309.1C469.6 309.0 469.2 309.2 469.1 309.2C469.1 309.2 469.4 309.1 469.4 309.1C469.5 309.0 469.3 309.0 469.4 309.0C469.4 309.0 469.6 309.1 469.6 309.1C469.6 309.0 469.4 308.8 469.4 308.7C469.5 308.6 469.8 308.5 469.8 308.5C469.8 308.5 469.5 308.5 469.5 308.5C469.4 308.5 469.5 308.8 469.6 308.8C469.7 308.8 470.0 308.6 470.1 308.5C470.1 308.4 469.8 308.4 469.8 308.4C469.7 308.4 469.8 308.4 469.9 308.5C469.9 308.6 470.0 308.8 470.1 308.9C470.1 308.9 470.0 308.7 470.0 308.7C470.0 308.6 470.3 308.7 470.3 308.8C470.3 308.8 469.9 308.8 469.9 308.9Z" fill="#fff" stroke="#999" stroke-width="0.5"/>
<path d="M477.5 318Q476.5 326 472 333" fill="none" stroke="#111" stroke-width="1.6"/>
<path d="M462.6 337.7h0M467.9 346.1h0M465.8 350.3h0M468.6 346.6h0M462.8 337.1h0M463.5 353.9h0M467.4 347.9h0M464.8 340.1h0M463.5 353.9h0M463.7 338.6h0M468.9 347.9h0M466.8 348.9h0M468.4 347.4h0M462.9 337.8h0M461.7 338.9h0M466.0 342.7h0M463.6 354.9h0M463.8 354.1h0M466.2 348.2h0M463.5 338.7h0M466.2 349.3h0M467.2 342.9h0M467.8 347.6h0M464.2 354.2h0M463.9 352.2h0M466.2 344.5h0M465.5 340.0h0M468.3 348.6h0M464.4 338.6h0M462.5 356.1h0M463.9 350.4h0M466.4 348.8h0M462.8 338.8h0M465.8 350.2h0M463.7 340.1h0M467.8 347.9h0M467.3 345.9h0M463.1 355.1h0M461.6 356.1h0M461.4 356.4h0M474.3 355.3h0M472.4 351.1h0M468.2 346.4h0M474.2 353.6h0M474.7 353.7h0M474.1 338.4h0M472.6 340.7h0M471.8 350.5h0M470.1 348.5h0M474.0 355.8h0M471.6 343.7h0M473.2 340.3h0M474.0 353.3h0M472.8 349.4h0M475.4 356.2h0M472.6 341.1h0M470.2 344.4h0M469.6 346.2h0M474.4 337.7h0M470.5 349.4h0M468.2 347.9h0M475.9 355.6h0M470.1 348.6h0M472.4 352.5h0M472.9 339.5h0M474.2 339.5h0M470.5 349.6h0M475.2 336.9h0M470.9 344.7h0M473.7 339.4h0M470.2 348.4h0M475.7 338.1h0M472.4 342.5h0M471.5 349.6h0M475.1 338.5h0M473.2 341.7h0M473.0 351.0h0M471.9 342.6h0M471.6 350.2h0M469.2 345.4h0" stroke="#222" stroke-width="1.0" stroke-linecap="round" fill="none" opacity="1.0"/>
<path d="M423.7 357.6V304.2H457.3V357.6" fill="none" stroke="#444" stroke-width="0.9"/>
<path d="M440.2 266.3 V286.4" stroke="#111" stroke-width="1"/>
<path d="M436.5 285.4 L443.9 285.4 L440.2 294.8 Z" fill="#000"/>
<path d="M44.5 266.3 V288.3" stroke="#111" stroke-width="1"/>
<path d="M40.9 287.3 L48.1 287.3 L44.5 298 Z" fill="#000"/>
</svg></body></html>
